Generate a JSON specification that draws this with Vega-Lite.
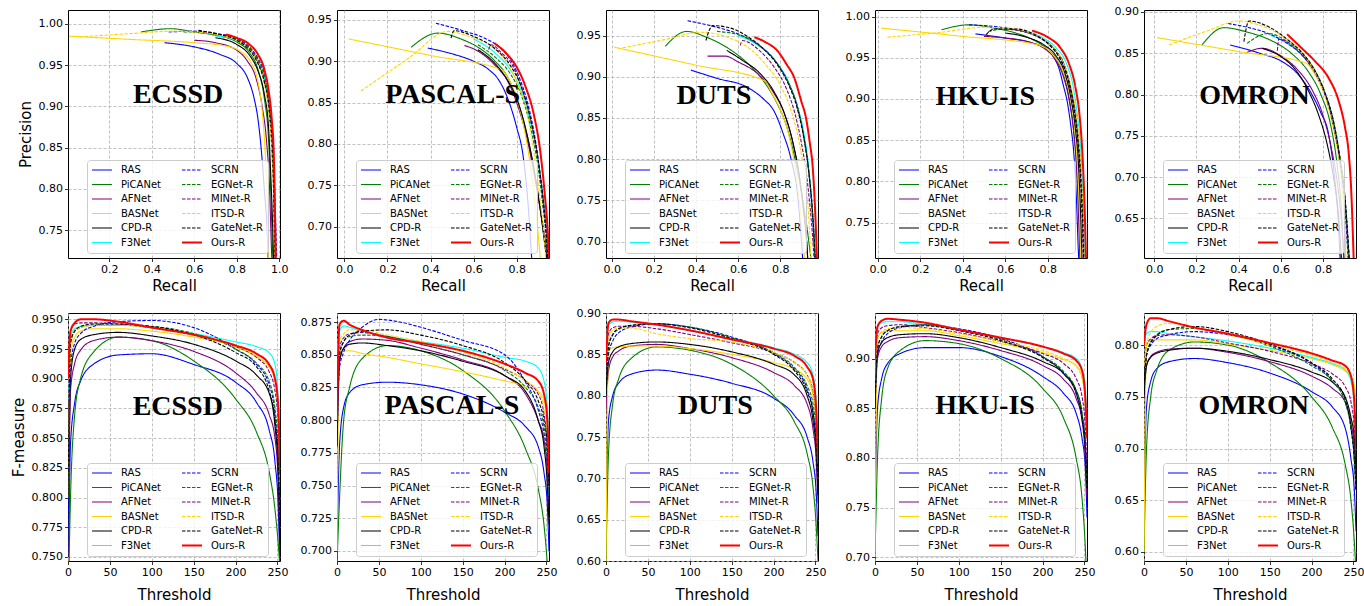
{
"$schema":"https://vega.github.io/schema/vega-lite/v6.json",
"background":"white",
"padding":{"left":10,"top":5,"right":5,"bottom":5},
"columns":5,
"spacing":{"row":55,"column":57},
"bounds":"flush",
"resolve":{"scale":{"x":"independent","y":"independent","color":"independent","strokeDash":"independent","strokeWidth":"independent"},"legend":{"color":"independent","strokeDash":"independent","strokeWidth":"independent"}},
"datasets":{
"p1":[
{"m":"RAS","x":0.46,"y":0.977},{"m":"RAS","x":0.6,"y":0.972},{"m":"RAS","x":0.72,"y":0.963},{"m":"RAS","x":0.8,"y":0.952},{"m":"RAS","x":0.85,"y":0.935},{"m":"RAS","x":0.88,"y":0.912},{"m":"RAS","x":0.9,"y":0.885},{"m":"RAS","x":0.915,"y":0.85},{"m":"RAS","x":0.93,"y":0.8},{"m":"RAS","x":0.945,"y":0.74},{"m":"RAS","x":0.95,"y":0.7},
{"m":"PiCANet","x":0.35,"y":0.99},{"m":"PiCANet","x":0.49,"y":0.994},{"m":"PiCANet","x":0.6,"y":0.99},{"m":"PiCANet","x":0.7,"y":0.986},{"m":"PiCANet","x":0.8,"y":0.978},{"m":"PiCANet","x":0.86,"y":0.965},{"m":"PiCANet","x":0.9,"y":0.945},{"m":"PiCANet","x":0.93,"y":0.91},{"m":"PiCANet","x":0.95,"y":0.86},{"m":"PiCANet","x":0.96,"y":0.8},{"m":"PiCANet","x":0.97,"y":0.72},{"m":"PiCANet","x":0.975,"y":0.7},
{"m":"AFNet","x":0.6,"y":0.98},{"m":"AFNet","x":0.7,"y":0.977},{"m":"AFNet","x":0.8,"y":0.968},{"m":"AFNet","x":0.85,"y":0.955},{"m":"AFNet","x":0.89,"y":0.935},{"m":"AFNet","x":0.92,"y":0.9},{"m":"AFNet","x":0.94,"y":0.86},{"m":"AFNet","x":0.955,"y":0.8},{"m":"AFNet","x":0.965,"y":0.72},{"m":"AFNet","x":0.97,"y":0.7},
{"m":"BASNet","x":0.012,"y":0.985},{"m":"BASNet","x":0.3,"y":0.981},{"m":"BASNet","x":0.6,"y":0.977},{"m":"BASNet","x":0.75,"y":0.973},{"m":"BASNet","x":0.82,"y":0.966},{"m":"BASNet","x":0.87,"y":0.952},{"m":"BASNet","x":0.9,"y":0.93},{"m":"BASNet","x":0.92,"y":0.895},{"m":"BASNet","x":0.935,"y":0.84},{"m":"BASNet","x":0.945,"y":0.77},{"m":"BASNet","x":0.95,"y":0.7},
{"m":"CPD-R","x":0.7,"y":0.983},{"m":"CPD-R","x":0.8,"y":0.975},{"m":"CPD-R","x":0.86,"y":0.962},{"m":"CPD-R","x":0.9,"y":0.943},{"m":"CPD-R","x":0.93,"y":0.915},{"m":"CPD-R","x":0.95,"y":0.875},{"m":"CPD-R","x":0.96,"y":0.82},{"m":"CPD-R","x":0.97,"y":0.75},{"m":"CPD-R","x":0.975,"y":0.7},
{"m":"F3Net","x":0.7,"y":0.985},{"m":"F3Net","x":0.8,"y":0.98},{"m":"F3Net","x":0.86,"y":0.97},{"m":"F3Net","x":0.9,"y":0.955},{"m":"F3Net","x":0.93,"y":0.935},{"m":"F3Net","x":0.95,"y":0.9},{"m":"F3Net","x":0.965,"y":0.86},{"m":"F3Net","x":0.975,"y":0.8},{"m":"F3Net","x":0.98,"y":0.72},{"m":"F3Net","x":0.985,"y":0.7},
{"m":"SCRN","x":0.48,"y":0.99},{"m":"SCRN","x":0.6,"y":0.991},{"m":"SCRN","x":0.7,"y":0.988},{"m":"SCRN","x":0.8,"y":0.982},{"m":"SCRN","x":0.86,"y":0.972},{"m":"SCRN","x":0.9,"y":0.958},{"m":"SCRN","x":0.93,"y":0.94},{"m":"SCRN","x":0.955,"y":0.905},{"m":"SCRN","x":0.97,"y":0.86},{"m":"SCRN","x":0.98,"y":0.79},{"m":"SCRN","x":0.99,"y":0.7},
{"m":"EGNet-R","x":0.55,"y":0.99},{"m":"EGNet-R","x":0.65,"y":0.99},{"m":"EGNet-R","x":0.75,"y":0.985},{"m":"EGNet-R","x":0.83,"y":0.977},{"m":"EGNet-R","x":0.88,"y":0.965},{"m":"EGNet-R","x":0.92,"y":0.945},{"m":"EGNet-R","x":0.945,"y":0.915},{"m":"EGNet-R","x":0.96,"y":0.875},{"m":"EGNet-R","x":0.973,"y":0.82},{"m":"EGNet-R","x":0.98,"y":0.75},{"m":"EGNet-R","x":0.985,"y":0.7},
{"m":"MINet-R","x":0.62,"y":0.99},{"m":"MINet-R","x":0.7,"y":0.988},{"m":"MINet-R","x":0.8,"y":0.982},{"m":"MINet-R","x":0.86,"y":0.97},{"m":"MINet-R","x":0.9,"y":0.955},{"m":"MINet-R","x":0.93,"y":0.93},{"m":"MINet-R","x":0.95,"y":0.9},{"m":"MINet-R","x":0.965,"y":0.85},{"m":"MINet-R","x":0.975,"y":0.78},{"m":"MINet-R","x":0.98,"y":0.7},
{"m":"ITSD-R","x":0.06,"y":0.984},{"m":"ITSD-R","x":0.3,"y":0.988},{"m":"ITSD-R","x":0.5,"y":0.991},{"m":"ITSD-R","x":0.6,"y":0.99},{"m":"ITSD-R","x":0.7,"y":0.987},{"m":"ITSD-R","x":0.8,"y":0.98},{"m":"ITSD-R","x":0.86,"y":0.968},{"m":"ITSD-R","x":0.9,"y":0.952},{"m":"ITSD-R","x":0.93,"y":0.928},{"m":"ITSD-R","x":0.95,"y":0.895},{"m":"ITSD-R","x":0.965,"y":0.85},{"m":"ITSD-R","x":0.975,"y":0.78},{"m":"ITSD-R","x":0.98,"y":0.7},
{"m":"GateNet-R","x":0.62,"y":0.992},{"m":"GateNet-R","x":0.7,"y":0.988},{"m":"GateNet-R","x":0.8,"y":0.98},{"m":"GateNet-R","x":0.86,"y":0.968},{"m":"GateNet-R","x":0.9,"y":0.952},{"m":"GateNet-R","x":0.93,"y":0.93},{"m":"GateNet-R","x":0.955,"y":0.895},{"m":"GateNet-R","x":0.97,"y":0.84},{"m":"GateNet-R","x":0.978,"y":0.76},{"m":"GateNet-R","x":0.983,"y":0.7},
{"m":"Ours-R","x":0.75,"y":0.987},{"m":"Ours-R","x":0.8,"y":0.983},{"m":"Ours-R","x":0.86,"y":0.975},{"m":"Ours-R","x":0.9,"y":0.963},{"m":"Ours-R","x":0.93,"y":0.945},{"m":"Ours-R","x":0.95,"y":0.92},{"m":"Ours-R","x":0.965,"y":0.885},{"m":"Ours-R","x":0.975,"y":0.84},{"m":"Ours-R","x":0.98,"y":0.78},{"m":"Ours-R","x":0.985,"y":0.7}
],
"p2":[
{"m":"RAS","x":0.387,"y":0.916},{"m":"RAS","x":0.5,"y":0.909},{"m":"RAS","x":0.6,"y":0.9},{"m":"RAS","x":0.67,"y":0.89},{"m":"RAS","x":0.72,"y":0.876},{"m":"RAS","x":0.76,"y":0.854},{"m":"RAS","x":0.8,"y":0.82},{"m":"RAS","x":0.83,"y":0.785},{"m":"RAS","x":0.855,"y":0.72},{"m":"RAS","x":0.87,"y":0.66},
{"m":"PiCANet","x":0.31,"y":0.917},{"m":"PiCANet","x":0.433,"y":0.934},{"m":"PiCANet","x":0.55,"y":0.926},{"m":"PiCANet","x":0.62,"y":0.917},{"m":"PiCANet","x":0.7,"y":0.9},{"m":"PiCANet","x":0.76,"y":0.88},{"m":"PiCANet","x":0.8,"y":0.855},{"m":"PiCANet","x":0.84,"y":0.82},{"m":"PiCANet","x":0.88,"y":0.77},{"m":"PiCANet","x":0.91,"y":0.72},{"m":"PiCANet","x":0.93,"y":0.68},{"m":"PiCANet","x":0.94,"y":0.66},
{"m":"AFNet","x":0.557,"y":0.919},{"m":"AFNet","x":0.6,"y":0.915},{"m":"AFNet","x":0.7,"y":0.895},{"m":"AFNet","x":0.76,"y":0.875},{"m":"AFNet","x":0.8,"y":0.85},{"m":"AFNet","x":0.84,"y":0.815},{"m":"AFNet","x":0.88,"y":0.765},{"m":"AFNet","x":0.91,"y":0.72},{"m":"AFNet","x":0.935,"y":0.68},{"m":"AFNet","x":0.945,"y":0.66},
{"m":"BASNet","x":0.02,"y":0.927},{"m":"BASNet","x":0.4,"y":0.907},{"m":"BASNet","x":0.735,"y":0.889},{"m":"BASNet","x":0.77,"y":0.875},{"m":"BASNet","x":0.8,"y":0.855},{"m":"BASNet","x":0.83,"y":0.825},{"m":"BASNet","x":0.86,"y":0.78},{"m":"BASNet","x":0.88,"y":0.74},{"m":"BASNet","x":0.9,"y":0.69},{"m":"BASNet","x":0.91,"y":0.66},
{"m":"CPD-R","x":0.62,"y":0.914},{"m":"CPD-R","x":0.7,"y":0.897},{"m":"CPD-R","x":0.76,"y":0.876},{"m":"CPD-R","x":0.8,"y":0.855},{"m":"CPD-R","x":0.84,"y":0.82},{"m":"CPD-R","x":0.88,"y":0.77},{"m":"CPD-R","x":0.91,"y":0.72},{"m":"CPD-R","x":0.93,"y":0.68},{"m":"CPD-R","x":0.94,"y":0.66},
{"m":"F3Net","x":0.6,"y":0.927},{"m":"F3Net","x":0.7,"y":0.91},{"m":"F3Net","x":0.77,"y":0.89},{"m":"F3Net","x":0.82,"y":0.865},{"m":"F3Net","x":0.86,"y":0.83},{"m":"F3Net","x":0.9,"y":0.78},{"m":"F3Net","x":0.92,"y":0.74},{"m":"F3Net","x":0.94,"y":0.69},{"m":"F3Net","x":0.945,"y":0.66},
{"m":"SCRN","x":0.425,"y":0.946},{"m":"SCRN","x":0.55,"y":0.937},{"m":"SCRN","x":0.65,"y":0.928},{"m":"SCRN","x":0.72,"y":0.917},{"m":"SCRN","x":0.78,"y":0.898},{"m":"SCRN","x":0.82,"y":0.875},{"m":"SCRN","x":0.86,"y":0.84},{"m":"SCRN","x":0.9,"y":0.78},{"m":"SCRN","x":0.92,"y":0.73},{"m":"SCRN","x":0.94,"y":0.68},{"m":"SCRN","x":0.945,"y":0.66},
{"m":"EGNet-R","x":0.62,"y":0.92},{"m":"EGNet-R","x":0.7,"y":0.905},{"m":"EGNet-R","x":0.77,"y":0.885},{"m":"EGNet-R","x":0.82,"y":0.86},{"m":"EGNet-R","x":0.86,"y":0.825},{"m":"EGNet-R","x":0.9,"y":0.77},{"m":"EGNet-R","x":0.92,"y":0.73},{"m":"EGNet-R","x":0.94,"y":0.68},{"m":"EGNet-R","x":0.945,"y":0.66},
{"m":"MINet-R","x":0.67,"y":0.914},{"m":"MINet-R","x":0.68,"y":0.92},{"m":"MINet-R","x":0.73,"y":0.91},{"m":"MINet-R","x":0.78,"y":0.895},{"m":"MINet-R","x":0.82,"y":0.87},{"m":"MINet-R","x":0.86,"y":0.835},{"m":"MINet-R","x":0.9,"y":0.78},{"m":"MINet-R","x":0.92,"y":0.74},{"m":"MINet-R","x":0.94,"y":0.69},{"m":"MINet-R","x":0.948,"y":0.66},
{"m":"ITSD-R","x":0.077,"y":0.864},{"m":"ITSD-R","x":0.3,"y":0.904},{"m":"ITSD-R","x":0.48,"y":0.936},{"m":"ITSD-R","x":0.58,"y":0.93},{"m":"ITSD-R","x":0.68,"y":0.918},{"m":"ITSD-R","x":0.75,"y":0.9},{"m":"ITSD-R","x":0.8,"y":0.875},{"m":"ITSD-R","x":0.85,"y":0.835},{"m":"ITSD-R","x":0.88,"y":0.79},{"m":"ITSD-R","x":0.91,"y":0.73},{"m":"ITSD-R","x":0.93,"y":0.68},{"m":"ITSD-R","x":0.935,"y":0.66},
{"m":"GateNet-R","x":0.495,"y":0.928},{"m":"GateNet-R","x":0.51,"y":0.937},{"m":"GateNet-R","x":0.6,"y":0.93},{"m":"GateNet-R","x":0.7,"y":0.915},{"m":"GateNet-R","x":0.77,"y":0.895},{"m":"GateNet-R","x":0.82,"y":0.87},{"m":"GateNet-R","x":0.86,"y":0.835},{"m":"GateNet-R","x":0.9,"y":0.78},{"m":"GateNet-R","x":0.92,"y":0.74},{"m":"GateNet-R","x":0.94,"y":0.68},{"m":"GateNet-R","x":0.945,"y":0.66},
{"m":"Ours-R","x":0.696,"y":0.922},{"m":"Ours-R","x":0.75,"y":0.91},{"m":"Ours-R","x":0.8,"y":0.893},{"m":"Ours-R","x":0.84,"y":0.87},{"m":"Ours-R","x":0.88,"y":0.835},{"m":"Ours-R","x":0.91,"y":0.79},{"m":"Ours-R","x":0.93,"y":0.74},{"m":"Ours-R","x":0.945,"y":0.69},{"m":"Ours-R","x":0.95,"y":0.66}
],
"p3":[
{"m":"RAS","x":0.376,"y":0.908},{"m":"RAS","x":0.5,"y":0.898},{"m":"RAS","x":0.645,"y":0.887},{"m":"RAS","x":0.72,"y":0.873},{"m":"RAS","x":0.771,"y":0.858},{"m":"RAS","x":0.815,"y":0.83},{"m":"RAS","x":0.851,"y":0.8},{"m":"RAS","x":0.885,"y":0.75},{"m":"RAS","x":0.906,"y":0.68},
{"m":"PiCANet","x":0.254,"y":0.937},{"m":"PiCANet","x":0.355,"y":0.955},{"m":"PiCANet","x":0.45,"y":0.948},{"m":"PiCANet","x":0.55,"y":0.935},{"m":"PiCANet","x":0.65,"y":0.915},{"m":"PiCANet","x":0.72,"y":0.895},{"m":"PiCANet","x":0.78,"y":0.87},{"m":"PiCANet","x":0.83,"y":0.84},{"m":"PiCANet","x":0.87,"y":0.8},{"m":"PiCANet","x":0.9,"y":0.76},{"m":"PiCANet","x":0.925,"y":0.72},{"m":"PiCANet","x":0.945,"y":0.68},
{"m":"AFNet","x":0.455,"y":0.925},{"m":"AFNet","x":0.54,"y":0.925},{"m":"AFNet","x":0.6,"y":0.918},{"m":"AFNet","x":0.7,"y":0.902},{"m":"AFNet","x":0.77,"y":0.88},{"m":"AFNet","x":0.82,"y":0.855},{"m":"AFNet","x":0.86,"y":0.82},{"m":"AFNet","x":0.89,"y":0.78},{"m":"AFNet","x":0.91,"y":0.74},{"m":"AFNet","x":0.925,"y":0.7},{"m":"AFNet","x":0.93,"y":0.68},
{"m":"BASNet","x":0.01,"y":0.936},{"m":"BASNet","x":0.4,"y":0.914},{"m":"BASNet","x":0.725,"y":0.895},{"m":"BASNet","x":0.76,"y":0.88},{"m":"BASNet","x":0.8,"y":0.86},{"m":"BASNet","x":0.84,"y":0.83},{"m":"BASNet","x":0.87,"y":0.79},{"m":"BASNet","x":0.89,"y":0.75},{"m":"BASNet","x":0.905,"y":0.71},{"m":"BASNet","x":0.915,"y":0.68},
{"m":"CPD-R","x":0.546,"y":0.932},{"m":"CPD-R","x":0.62,"y":0.92},{"m":"CPD-R","x":0.7,"y":0.905},{"m":"CPD-R","x":0.77,"y":0.882},{"m":"CPD-R","x":0.82,"y":0.855},{"m":"CPD-R","x":0.86,"y":0.82},{"m":"CPD-R","x":0.89,"y":0.78},{"m":"CPD-R","x":0.91,"y":0.74},{"m":"CPD-R","x":0.925,"y":0.7},{"m":"CPD-R","x":0.93,"y":0.68},
{"m":"F3Net","x":0.6,"y":0.95},{"m":"F3Net","x":0.7,"y":0.937},{"m":"F3Net","x":0.78,"y":0.918},{"m":"F3Net","x":0.84,"y":0.893},{"m":"F3Net","x":0.88,"y":0.865},{"m":"F3Net","x":0.91,"y":0.835},{"m":"F3Net","x":0.935,"y":0.79},{"m":"F3Net","x":0.952,"y":0.74},{"m":"F3Net","x":0.962,"y":0.7},{"m":"F3Net","x":0.966,"y":0.68},
{"m":"SCRN","x":0.36,"y":0.968},{"m":"SCRN","x":0.5,"y":0.96},{"m":"SCRN","x":0.6,"y":0.952},{"m":"SCRN","x":0.7,"y":0.938},{"m":"SCRN","x":0.78,"y":0.918},{"m":"SCRN","x":0.84,"y":0.892},{"m":"SCRN","x":0.88,"y":0.865},{"m":"SCRN","x":0.91,"y":0.83},{"m":"SCRN","x":0.935,"y":0.785},{"m":"SCRN","x":0.95,"y":0.74},{"m":"SCRN","x":0.96,"y":0.7},{"m":"SCRN","x":0.964,"y":0.68},
{"m":"EGNet-R","x":0.5,"y":0.955},{"m":"EGNet-R","x":0.6,"y":0.951},{"m":"EGNet-R","x":0.7,"y":0.938},{"m":"EGNet-R","x":0.78,"y":0.918},{"m":"EGNet-R","x":0.84,"y":0.892},{"m":"EGNet-R","x":0.88,"y":0.865},{"m":"EGNet-R","x":0.91,"y":0.83},{"m":"EGNet-R","x":0.935,"y":0.785},{"m":"EGNet-R","x":0.952,"y":0.74},{"m":"EGNet-R","x":0.962,"y":0.7},{"m":"EGNet-R","x":0.966,"y":0.68},
{"m":"MINet-R","x":0.61,"y":0.938},{"m":"MINet-R","x":0.62,"y":0.944},{"m":"MINet-R","x":0.7,"y":0.932},{"m":"MINet-R","x":0.77,"y":0.912},{"m":"MINet-R","x":0.83,"y":0.885},{"m":"MINet-R","x":0.87,"y":0.855},{"m":"MINet-R","x":0.9,"y":0.82},{"m":"MINet-R","x":0.925,"y":0.78},{"m":"MINet-R","x":0.942,"y":0.74},{"m":"MINet-R","x":0.955,"y":0.7},{"m":"MINet-R","x":0.96,"y":0.68},
{"m":"ITSD-R","x":0.052,"y":0.935},{"m":"ITSD-R","x":0.25,"y":0.945},{"m":"ITSD-R","x":0.424,"y":0.954},{"m":"ITSD-R","x":0.55,"y":0.948},{"m":"ITSD-R","x":0.65,"y":0.935},{"m":"ITSD-R","x":0.73,"y":0.915},{"m":"ITSD-R","x":0.8,"y":0.89},{"m":"ITSD-R","x":0.85,"y":0.86},{"m":"ITSD-R","x":0.89,"y":0.82},{"m":"ITSD-R","x":0.915,"y":0.78},{"m":"ITSD-R","x":0.935,"y":0.73},{"m":"ITSD-R","x":0.945,"y":0.68},
{"m":"GateNet-R","x":0.447,"y":0.944},{"m":"GateNet-R","x":0.479,"y":0.962},{"m":"GateNet-R","x":0.55,"y":0.96},{"m":"GateNet-R","x":0.65,"y":0.948},{"m":"GateNet-R","x":0.72,"y":0.934},{"m":"GateNet-R","x":0.79,"y":0.913},{"m":"GateNet-R","x":0.84,"y":0.89},{"m":"GateNet-R","x":0.88,"y":0.862},{"m":"GateNet-R","x":0.91,"y":0.828},{"m":"GateNet-R","x":0.935,"y":0.785},{"m":"GateNet-R","x":0.952,"y":0.74},{"m":"GateNet-R","x":0.962,"y":0.7},{"m":"GateNet-R","x":0.966,"y":0.68},
{"m":"Ours-R","x":0.677,"y":0.948},{"m":"Ours-R","x":0.73,"y":0.942},{"m":"Ours-R","x":0.788,"y":0.931},{"m":"Ours-R","x":0.83,"y":0.915},{"m":"Ours-R","x":0.866,"y":0.899},{"m":"Ours-R","x":0.9,"y":0.87},{"m":"Ours-R","x":0.922,"y":0.85},{"m":"Ours-R","x":0.94,"y":0.82},{"m":"Ours-R","x":0.954,"y":0.79},{"m":"Ours-R","x":0.965,"y":0.74},{"m":"Ours-R","x":0.974,"y":0.68}
],
"p4":[
{"m":"RAS","x":0.46,"y":0.979},{"m":"RAS","x":0.6,"y":0.974},{"m":"RAS","x":0.726,"y":0.968},{"m":"RAS","x":0.79,"y":0.961},{"m":"RAS","x":0.83,"y":0.95},{"m":"RAS","x":0.852,"y":0.938},{"m":"RAS","x":0.875,"y":0.915},{"m":"RAS","x":0.891,"y":0.898},{"m":"RAS","x":0.91,"y":0.865},{"m":"RAS","x":0.922,"y":0.837},{"m":"RAS","x":0.935,"y":0.78},{"m":"RAS","x":0.946,"y":0.707},{"m":"RAS","x":0.948,"y":0.7},
{"m":"PiCANet","x":0.3,"y":0.984},{"m":"PiCANet","x":0.43,"y":0.99},{"m":"PiCANet","x":0.55,"y":0.986},{"m":"PiCANet","x":0.65,"y":0.98},{"m":"PiCANet","x":0.73,"y":0.972},{"m":"PiCANet","x":0.8,"y":0.96},{"m":"PiCANet","x":0.85,"y":0.945},{"m":"PiCANet","x":0.88,"y":0.925},{"m":"PiCANet","x":0.905,"y":0.895},{"m":"PiCANet","x":0.925,"y":0.855},{"m":"PiCANet","x":0.94,"y":0.8},{"m":"PiCANet","x":0.95,"y":0.74},{"m":"PiCANet","x":0.955,"y":0.7},
{"m":"AFNet","x":0.5,"y":0.976},{"m":"AFNet","x":0.6,"y":0.974},{"m":"AFNet","x":0.7,"y":0.97},{"m":"AFNet","x":0.78,"y":0.962},{"m":"AFNet","x":0.83,"y":0.95},{"m":"AFNet","x":0.87,"y":0.93},{"m":"AFNet","x":0.9,"y":0.9},{"m":"AFNet","x":0.92,"y":0.865},{"m":"AFNet","x":0.935,"y":0.82},{"m":"AFNet","x":0.945,"y":0.76},{"m":"AFNet","x":0.952,"y":0.7},
{"m":"BASNet","x":0.015,"y":0.986},{"m":"BASNet","x":0.4,"y":0.976},{"m":"BASNet","x":0.75,"y":0.966},{"m":"BASNet","x":0.82,"y":0.955},{"m":"BASNet","x":0.87,"y":0.935},{"m":"BASNet","x":0.9,"y":0.91},{"m":"BASNet","x":0.925,"y":0.87},{"m":"BASNet","x":0.94,"y":0.82},{"m":"BASNet","x":0.95,"y":0.76},{"m":"BASNet","x":0.956,"y":0.7},
{"m":"CPD-R","x":0.6,"y":0.98},{"m":"CPD-R","x":0.7,"y":0.975},{"m":"CPD-R","x":0.78,"y":0.966},{"m":"CPD-R","x":0.84,"y":0.952},{"m":"CPD-R","x":0.88,"y":0.932},{"m":"CPD-R","x":0.91,"y":0.9},{"m":"CPD-R","x":0.93,"y":0.865},{"m":"CPD-R","x":0.945,"y":0.82},{"m":"CPD-R","x":0.955,"y":0.76},{"m":"CPD-R","x":0.962,"y":0.7},
{"m":"F3Net","x":0.7,"y":0.982},{"m":"F3Net","x":0.78,"y":0.974},{"m":"F3Net","x":0.84,"y":0.962},{"m":"F3Net","x":0.89,"y":0.942},{"m":"F3Net","x":0.92,"y":0.915},{"m":"F3Net","x":0.94,"y":0.88},{"m":"F3Net","x":0.955,"y":0.84},{"m":"F3Net","x":0.965,"y":0.79},{"m":"F3Net","x":0.972,"y":0.74},{"m":"F3Net","x":0.976,"y":0.7},
{"m":"SCRN","x":0.43,"y":0.99},{"m":"SCRN","x":0.55,"y":0.988},{"m":"SCRN","x":0.65,"y":0.984},{"m":"SCRN","x":0.74,"y":0.977},{"m":"SCRN","x":0.81,"y":0.965},{"m":"SCRN","x":0.86,"y":0.948},{"m":"SCRN","x":0.9,"y":0.92},{"m":"SCRN","x":0.925,"y":0.89},{"m":"SCRN","x":0.945,"y":0.85},{"m":"SCRN","x":0.958,"y":0.8},{"m":"SCRN","x":0.966,"y":0.75},{"m":"SCRN","x":0.97,"y":0.7},
{"m":"EGNet-R","x":0.52,"y":0.982},{"m":"EGNet-R","x":0.6,"y":0.985},{"m":"EGNet-R","x":0.7,"y":0.981},{"m":"EGNet-R","x":0.78,"y":0.972},{"m":"EGNet-R","x":0.84,"y":0.958},{"m":"EGNet-R","x":0.88,"y":0.94},{"m":"EGNet-R","x":0.91,"y":0.912},{"m":"EGNet-R","x":0.935,"y":0.875},{"m":"EGNet-R","x":0.95,"y":0.83},{"m":"EGNet-R","x":0.962,"y":0.78},{"m":"EGNet-R","x":0.968,"y":0.73},{"m":"EGNet-R","x":0.972,"y":0.7},
{"m":"MINet-R","x":0.6,"y":0.985},{"m":"MINet-R","x":0.7,"y":0.981},{"m":"MINet-R","x":0.78,"y":0.972},{"m":"MINet-R","x":0.84,"y":0.958},{"m":"MINet-R","x":0.88,"y":0.94},{"m":"MINet-R","x":0.91,"y":0.912},{"m":"MINet-R","x":0.932,"y":0.875},{"m":"MINet-R","x":0.948,"y":0.83},{"m":"MINet-R","x":0.958,"y":0.78},{"m":"MINet-R","x":0.965,"y":0.73},{"m":"MINet-R","x":0.968,"y":0.7},
{"m":"ITSD-R","x":0.045,"y":0.975},{"m":"ITSD-R","x":0.3,"y":0.981},{"m":"ITSD-R","x":0.5,"y":0.987},{"m":"ITSD-R","x":0.62,"y":0.986},{"m":"ITSD-R","x":0.72,"y":0.98},{"m":"ITSD-R","x":0.8,"y":0.968},{"m":"ITSD-R","x":0.86,"y":0.95},{"m":"ITSD-R","x":0.9,"y":0.925},{"m":"ITSD-R","x":0.93,"y":0.89},{"m":"ITSD-R","x":0.948,"y":0.85},{"m":"ITSD-R","x":0.96,"y":0.8},{"m":"ITSD-R","x":0.968,"y":0.75},{"m":"ITSD-R","x":0.972,"y":0.7},
{"m":"GateNet-R","x":0.51,"y":0.978},{"m":"GateNet-R","x":0.55,"y":0.985},{"m":"GateNet-R","x":0.65,"y":0.985},{"m":"GateNet-R","x":0.74,"y":0.978},{"m":"GateNet-R","x":0.81,"y":0.965},{"m":"GateNet-R","x":0.86,"y":0.948},{"m":"GateNet-R","x":0.9,"y":0.92},{"m":"GateNet-R","x":0.925,"y":0.885},{"m":"GateNet-R","x":0.945,"y":0.84},{"m":"GateNet-R","x":0.958,"y":0.79},{"m":"GateNet-R","x":0.966,"y":0.74},{"m":"GateNet-R","x":0.97,"y":0.7},
{"m":"Ours-R","x":0.726,"y":0.983},{"m":"Ours-R","x":0.8,"y":0.975},{"m":"Ours-R","x":0.86,"y":0.962},{"m":"Ours-R","x":0.9,"y":0.943},{"m":"Ours-R","x":0.93,"y":0.915},{"m":"Ours-R","x":0.95,"y":0.88},{"m":"Ours-R","x":0.962,"y":0.84},{"m":"Ours-R","x":0.971,"y":0.79},{"m":"Ours-R","x":0.977,"y":0.74},{"m":"Ours-R","x":0.981,"y":0.7}
],
"p5":[
{"m":"RAS","x":0.36,"y":0.86},{"m":"RAS","x":0.5,"y":0.85},{"m":"RAS","x":0.606,"y":0.84},{"m":"RAS","x":0.68,"y":0.825},{"m":"RAS","x":0.748,"y":0.8},{"m":"RAS","x":0.79,"y":0.778},{"m":"RAS","x":0.827,"y":0.752},{"m":"RAS","x":0.855,"y":0.7},{"m":"RAS","x":0.872,"y":0.65},{"m":"RAS","x":0.882,"y":0.6},
{"m":"PiCANet","x":0.226,"y":0.86},{"m":"PiCANet","x":0.329,"y":0.881},{"m":"PiCANet","x":0.45,"y":0.875},{"m":"PiCANet","x":0.55,"y":0.866},{"m":"PiCANet","x":0.65,"y":0.85},{"m":"PiCANet","x":0.73,"y":0.828},{"m":"PiCANet","x":0.79,"y":0.8},{"m":"PiCANet","x":0.835,"y":0.765},{"m":"PiCANet","x":0.865,"y":0.72},{"m":"PiCANet","x":0.885,"y":0.67},{"m":"PiCANet","x":0.9,"y":0.6},
{"m":"AFNet","x":0.44,"y":0.851},{"m":"AFNet","x":0.51,"y":0.856},{"m":"AFNet","x":0.6,"y":0.847},{"m":"AFNet","x":0.68,"y":0.83},{"m":"AFNet","x":0.75,"y":0.805},{"m":"AFNet","x":0.8,"y":0.775},{"m":"AFNet","x":0.84,"y":0.735},{"m":"AFNet","x":0.87,"y":0.69},{"m":"AFNet","x":0.89,"y":0.64},{"m":"AFNet","x":0.9,"y":0.6},
{"m":"BASNet","x":0.013,"y":0.869},{"m":"BASNet","x":0.4,"y":0.852},{"m":"BASNet","x":0.72,"y":0.838},{"m":"BASNet","x":0.76,"y":0.825},{"m":"BASNet","x":0.8,"y":0.805},{"m":"BASNet","x":0.84,"y":0.775},{"m":"BASNet","x":0.87,"y":0.735},{"m":"BASNet","x":0.89,"y":0.69},{"m":"BASNet","x":0.903,"y":0.64},{"m":"BASNet","x":0.908,"y":0.6},
{"m":"CPD-R","x":0.51,"y":0.856},{"m":"CPD-R","x":0.6,"y":0.846},{"m":"CPD-R","x":0.67,"y":0.83},{"m":"CPD-R","x":0.73,"y":0.805},{"m":"CPD-R","x":0.78,"y":0.775},{"m":"CPD-R","x":0.82,"y":0.74},{"m":"CPD-R","x":0.85,"y":0.7},{"m":"CPD-R","x":0.875,"y":0.65},{"m":"CPD-R","x":0.888,"y":0.6},
{"m":"F3Net","x":0.55,"y":0.872},{"m":"F3Net","x":0.63,"y":0.862},{"m":"F3Net","x":0.7,"y":0.848},{"m":"F3Net","x":0.76,"y":0.828},{"m":"F3Net","x":0.81,"y":0.8},{"m":"F3Net","x":0.85,"y":0.765},{"m":"F3Net","x":0.88,"y":0.72},{"m":"F3Net","x":0.905,"y":0.67},{"m":"F3Net","x":0.92,"y":0.6},
{"m":"SCRN","x":0.35,"y":0.886},{"m":"SCRN","x":0.45,"y":0.881},{"m":"SCRN","x":0.55,"y":0.873},{"m":"SCRN","x":0.63,"y":0.862},{"m":"SCRN","x":0.7,"y":0.848},{"m":"SCRN","x":0.76,"y":0.828},{"m":"SCRN","x":0.81,"y":0.8},{"m":"SCRN","x":0.85,"y":0.765},{"m":"SCRN","x":0.88,"y":0.72},{"m":"SCRN","x":0.905,"y":0.67},{"m":"SCRN","x":0.925,"y":0.6},
{"m":"EGNet-R","x":0.44,"y":0.862},{"m":"EGNet-R","x":0.54,"y":0.874},{"m":"EGNet-R","x":0.62,"y":0.866},{"m":"EGNet-R","x":0.7,"y":0.85},{"m":"EGNet-R","x":0.76,"y":0.83},{"m":"EGNet-R","x":0.81,"y":0.802},{"m":"EGNet-R","x":0.85,"y":0.768},{"m":"EGNet-R","x":0.88,"y":0.725},{"m":"EGNet-R","x":0.905,"y":0.675},{"m":"EGNet-R","x":0.925,"y":0.6},
{"m":"MINet-R","x":0.584,"y":0.853},{"m":"MINet-R","x":0.59,"y":0.867},{"m":"MINet-R","x":0.65,"y":0.86},{"m":"MINet-R","x":0.71,"y":0.845},{"m":"MINet-R","x":0.77,"y":0.823},{"m":"MINet-R","x":0.82,"y":0.792},{"m":"MINet-R","x":0.855,"y":0.755},{"m":"MINet-R","x":0.885,"y":0.71},{"m":"MINet-R","x":0.905,"y":0.66},{"m":"MINet-R","x":0.92,"y":0.6},
{"m":"ITSD-R","x":0.07,"y":0.86},{"m":"ITSD-R","x":0.25,"y":0.877},{"m":"ITSD-R","x":0.4,"y":0.889},{"m":"ITSD-R","x":0.5,"y":0.884},{"m":"ITSD-R","x":0.6,"y":0.872},{"m":"ITSD-R","x":0.68,"y":0.856},{"m":"ITSD-R","x":0.75,"y":0.833},{"m":"ITSD-R","x":0.8,"y":0.805},{"m":"ITSD-R","x":0.84,"y":0.77},{"m":"ITSD-R","x":0.87,"y":0.73},{"m":"ITSD-R","x":0.895,"y":0.67},{"m":"ITSD-R","x":0.91,"y":0.6},
{"m":"GateNet-R","x":0.425,"y":0.864},{"m":"GateNet-R","x":0.449,"y":0.889},{"m":"GateNet-R","x":0.55,"y":0.881},{"m":"GateNet-R","x":0.63,"y":0.867},{"m":"GateNet-R","x":0.7,"y":0.851},{"m":"GateNet-R","x":0.76,"y":0.83},{"m":"GateNet-R","x":0.81,"y":0.802},{"m":"GateNet-R","x":0.85,"y":0.768},{"m":"GateNet-R","x":0.88,"y":0.725},{"m":"GateNet-R","x":0.905,"y":0.675},{"m":"GateNet-R","x":0.925,"y":0.6},
{"m":"Ours-R","x":0.63,"y":0.873},{"m":"Ours-R","x":0.7,"y":0.856},{"m":"Ours-R","x":0.764,"y":0.84},{"m":"Ours-R","x":0.827,"y":0.82},{"m":"Ours-R","x":0.875,"y":0.792},{"m":"Ours-R","x":0.905,"y":0.76},{"m":"Ours-R","x":0.922,"y":0.73},{"m":"Ours-R","x":0.935,"y":0.68},{"m":"Ours-R","x":0.946,"y":0.6}
],
"f1":[
{"m":"RAS","x":0,"y":0.7},{"m":"RAS","x":3,"y":0.845},{"m":"RAS","x":8,"y":0.88},{"m":"RAS","x":15,"y":0.898},{"m":"RAS","x":30,"y":0.912},{"m":"RAS","x":60,"y":0.92},{"m":"RAS","x":100,"y":0.921},{"m":"RAS","x":150,"y":0.912},{"m":"RAS","x":200,"y":0.897},{"m":"RAS","x":225,"y":0.88},{"m":"RAS","x":240,"y":0.857},{"m":"RAS","x":247,"y":0.83},{"m":"RAS","x":251,"y":0.79},{"m":"RAS","x":253,"y":0.74},
{"m":"PiCANet","x":0,"y":0.7},{"m":"PiCANet","x":3,"y":0.8},{"m":"PiCANet","x":8,"y":0.87},{"m":"PiCANet","x":15,"y":0.9},{"m":"PiCANet","x":30,"y":0.922},{"m":"PiCANet","x":60,"y":0.935},{"m":"PiCANet","x":100,"y":0.932},{"m":"PiCANet","x":150,"y":0.915},{"m":"PiCANet","x":200,"y":0.883},{"m":"PiCANet","x":225,"y":0.855},{"m":"PiCANet","x":240,"y":0.822},{"m":"PiCANet","x":247,"y":0.79},{"m":"PiCANet","x":251,"y":0.76},{"m":"PiCANet","x":253,"y":0.74},
{"m":"AFNet","x":0,"y":0.72},{"m":"AFNet","x":3,"y":0.89},{"m":"AFNet","x":8,"y":0.913},{"m":"AFNet","x":15,"y":0.924},{"m":"AFNet","x":30,"y":0.932},{"m":"AFNet","x":60,"y":0.935},{"m":"AFNet","x":100,"y":0.932},{"m":"AFNet","x":150,"y":0.923},{"m":"AFNet","x":200,"y":0.905},{"m":"AFNet","x":225,"y":0.888},{"m":"AFNet","x":240,"y":0.87},{"m":"AFNet","x":247,"y":0.85},{"m":"AFNet","x":251,"y":0.81},{"m":"AFNet","x":253,"y":0.75},
{"m":"BASNet","x":0,"y":0.74},{"m":"BASNet","x":3,"y":0.92},{"m":"BASNet","x":8,"y":0.935},{"m":"BASNet","x":15,"y":0.94},{"m":"BASNet","x":30,"y":0.942},{"m":"BASNet","x":60,"y":0.942},{"m":"BASNet","x":100,"y":0.94},{"m":"BASNet","x":150,"y":0.935},{"m":"BASNet","x":200,"y":0.927},{"m":"BASNet","x":225,"y":0.918},{"m":"BASNet","x":240,"y":0.91},{"m":"BASNet","x":247,"y":0.9},{"m":"BASNet","x":251,"y":0.87},{"m":"BASNet","x":253,"y":0.8},
{"m":"CPD-R","x":0,"y":0.75},{"m":"CPD-R","x":3,"y":0.9},{"m":"CPD-R","x":8,"y":0.925},{"m":"CPD-R","x":15,"y":0.933},{"m":"CPD-R","x":30,"y":0.937},{"m":"CPD-R","x":60,"y":0.939},{"m":"CPD-R","x":100,"y":0.936},{"m":"CPD-R","x":150,"y":0.929},{"m":"CPD-R","x":200,"y":0.915},{"m":"CPD-R","x":225,"y":0.903},{"m":"CPD-R","x":240,"y":0.888},{"m":"CPD-R","x":247,"y":0.86},{"m":"CPD-R","x":251,"y":0.82},{"m":"CPD-R","x":253,"y":0.76},
{"m":"F3Net","x":0,"y":0.88},{"m":"F3Net","x":3,"y":0.935},{"m":"F3Net","x":8,"y":0.942},{"m":"F3Net","x":15,"y":0.944},{"m":"F3Net","x":30,"y":0.945},{"m":"F3Net","x":60,"y":0.945},{"m":"F3Net","x":100,"y":0.943},{"m":"F3Net","x":150,"y":0.938},{"m":"F3Net","x":200,"y":0.931},{"m":"F3Net","x":225,"y":0.927},{"m":"F3Net","x":240,"y":0.922},{"m":"F3Net","x":247,"y":0.912},{"m":"F3Net","x":251,"y":0.88},{"m":"F3Net","x":253,"y":0.82},
{"m":"SCRN","x":0,"y":0.75},{"m":"SCRN","x":3,"y":0.91},{"m":"SCRN","x":8,"y":0.93},{"m":"SCRN","x":15,"y":0.938},{"m":"SCRN","x":30,"y":0.944},{"m":"SCRN","x":60,"y":0.948},{"m":"SCRN","x":100,"y":0.949},{"m":"SCRN","x":150,"y":0.943},{"m":"SCRN","x":200,"y":0.925},{"m":"SCRN","x":225,"y":0.912},{"m":"SCRN","x":240,"y":0.895},{"m":"SCRN","x":247,"y":0.87},{"m":"SCRN","x":251,"y":0.83},{"m":"SCRN","x":253,"y":0.77},
{"m":"EGNet-R","x":0,"y":0.8},{"m":"EGNet-R","x":3,"y":0.93},{"m":"EGNet-R","x":8,"y":0.94},{"m":"EGNet-R","x":15,"y":0.943},{"m":"EGNet-R","x":30,"y":0.945},{"m":"EGNet-R","x":60,"y":0.945},{"m":"EGNet-R","x":100,"y":0.944},{"m":"EGNet-R","x":150,"y":0.938},{"m":"EGNet-R","x":200,"y":0.925},{"m":"EGNet-R","x":225,"y":0.913},{"m":"EGNet-R","x":240,"y":0.898},{"m":"EGNet-R","x":247,"y":0.875},{"m":"EGNet-R","x":251,"y":0.84},{"m":"EGNet-R","x":253,"y":0.78},
{"m":"MINet-R","x":0,"y":0.85},{"m":"MINet-R","x":3,"y":0.94},{"m":"MINet-R","x":8,"y":0.946},{"m":"MINet-R","x":15,"y":0.947},{"m":"MINet-R","x":30,"y":0.947},{"m":"MINet-R","x":60,"y":0.946},{"m":"MINet-R","x":100,"y":0.943},{"m":"MINet-R","x":150,"y":0.937},{"m":"MINet-R","x":200,"y":0.927},{"m":"MINet-R","x":225,"y":0.918},{"m":"MINet-R","x":240,"y":0.906},{"m":"MINet-R","x":247,"y":0.89},{"m":"MINet-R","x":251,"y":0.86},{"m":"MINet-R","x":253,"y":0.8},
{"m":"ITSD-R","x":0,"y":0.8},{"m":"ITSD-R","x":3,"y":0.93},{"m":"ITSD-R","x":8,"y":0.94},{"m":"ITSD-R","x":15,"y":0.943},{"m":"ITSD-R","x":30,"y":0.945},{"m":"ITSD-R","x":60,"y":0.945},{"m":"ITSD-R","x":100,"y":0.943},{"m":"ITSD-R","x":150,"y":0.937},{"m":"ITSD-R","x":200,"y":0.927},{"m":"ITSD-R","x":225,"y":0.919},{"m":"ITSD-R","x":240,"y":0.91},{"m":"ITSD-R","x":247,"y":0.898},{"m":"ITSD-R","x":251,"y":0.87},{"m":"ITSD-R","x":253,"y":0.81},
{"m":"GateNet-R","x":0,"y":0.8},{"m":"GateNet-R","x":3,"y":0.93},{"m":"GateNet-R","x":8,"y":0.94},{"m":"GateNet-R","x":15,"y":0.944},{"m":"GateNet-R","x":30,"y":0.946},{"m":"GateNet-R","x":60,"y":0.946},{"m":"GateNet-R","x":100,"y":0.944},{"m":"GateNet-R","x":150,"y":0.937},{"m":"GateNet-R","x":200,"y":0.922},{"m":"GateNet-R","x":225,"y":0.91},{"m":"GateNet-R","x":240,"y":0.89},{"m":"GateNet-R","x":247,"y":0.865},{"m":"GateNet-R","x":251,"y":0.83},{"m":"GateNet-R","x":253,"y":0.77},
{"m":"Ours-R","x":0,"y":0.9},{"m":"Ours-R","x":3,"y":0.94},{"m":"Ours-R","x":8,"y":0.947},{"m":"Ours-R","x":15,"y":0.95},{"m":"Ours-R","x":30,"y":0.95},{"m":"Ours-R","x":60,"y":0.948},{"m":"Ours-R","x":100,"y":0.943},{"m":"Ours-R","x":150,"y":0.937},{"m":"Ours-R","x":200,"y":0.928},{"m":"Ours-R","x":225,"y":0.921},{"m":"Ours-R","x":240,"y":0.912},{"m":"Ours-R","x":247,"y":0.9},{"m":"Ours-R","x":251,"y":0.875},{"m":"Ours-R","x":253,"y":0.82}
],
"f2":[
{"m":"RAS","x":0,"y":0.7},{"m":"RAS","x":3,"y":0.78},{"m":"RAS","x":8,"y":0.81},{"m":"RAS","x":15,"y":0.821},{"m":"RAS","x":30,"y":0.827},{"m":"RAS","x":60,"y":0.829},{"m":"RAS","x":100,"y":0.827},{"m":"RAS","x":150,"y":0.82},{"m":"RAS","x":200,"y":0.806},{"m":"RAS","x":225,"y":0.795},{"m":"RAS","x":240,"y":0.78},{"m":"RAS","x":247,"y":0.76},{"m":"RAS","x":251,"y":0.735},{"m":"RAS","x":253,"y":0.7},
{"m":"PiCANet","x":0,"y":0.69},{"m":"PiCANet","x":3,"y":0.74},{"m":"PiCANet","x":8,"y":0.8},{"m":"PiCANet","x":15,"y":0.825},{"m":"PiCANet","x":30,"y":0.847},{"m":"PiCANet","x":60,"y":0.857},{"m":"PiCANet","x":100,"y":0.853},{"m":"PiCANet","x":150,"y":0.838},{"m":"PiCANet","x":200,"y":0.807},{"m":"PiCANet","x":225,"y":0.778},{"m":"PiCANet","x":240,"y":0.748},{"m":"PiCANet","x":247,"y":0.72},{"m":"PiCANet","x":251,"y":0.69},{"m":"PiCANet","x":253,"y":0.67},
{"m":"AFNet","x":0,"y":0.78},{"m":"AFNet","x":3,"y":0.845},{"m":"AFNet","x":8,"y":0.855},{"m":"AFNet","x":15,"y":0.86},{"m":"AFNet","x":30,"y":0.862},{"m":"AFNet","x":60,"y":0.861},{"m":"AFNet","x":100,"y":0.855},{"m":"AFNet","x":150,"y":0.846},{"m":"AFNet","x":200,"y":0.834},{"m":"AFNet","x":225,"y":0.82},{"m":"AFNet","x":240,"y":0.8},{"m":"AFNet","x":247,"y":0.785},{"m":"AFNet","x":251,"y":0.76},{"m":"AFNet","x":253,"y":0.73},
{"m":"BASNet","x":0,"y":0.7},{"m":"BASNet","x":3,"y":0.85},{"m":"BASNet","x":8,"y":0.853},{"m":"BASNet","x":15,"y":0.853},{"m":"BASNet","x":30,"y":0.851},{"m":"BASNet","x":60,"y":0.848},{"m":"BASNet","x":100,"y":0.843},{"m":"BASNet","x":150,"y":0.837},{"m":"BASNet","x":200,"y":0.83},{"m":"BASNet","x":225,"y":0.826},{"m":"BASNet","x":240,"y":0.822},{"m":"BASNet","x":247,"y":0.815},{"m":"BASNet","x":251,"y":0.8},{"m":"BASNet","x":253,"y":0.77},
{"m":"CPD-R","x":0,"y":0.78},{"m":"CPD-R","x":3,"y":0.845},{"m":"CPD-R","x":8,"y":0.855},{"m":"CPD-R","x":15,"y":0.858},{"m":"CPD-R","x":30,"y":0.859},{"m":"CPD-R","x":60,"y":0.857},{"m":"CPD-R","x":100,"y":0.853},{"m":"CPD-R","x":150,"y":0.845},{"m":"CPD-R","x":200,"y":0.834},{"m":"CPD-R","x":225,"y":0.822},{"m":"CPD-R","x":240,"y":0.8},{"m":"CPD-R","x":247,"y":0.78},{"m":"CPD-R","x":251,"y":0.75},{"m":"CPD-R","x":253,"y":0.72},
{"m":"F3Net","x":0,"y":0.85},{"m":"F3Net","x":3,"y":0.868},{"m":"F3Net","x":8,"y":0.872},{"m":"F3Net","x":15,"y":0.871},{"m":"F3Net","x":30,"y":0.868},{"m":"F3Net","x":60,"y":0.864},{"m":"F3Net","x":100,"y":0.86},{"m":"F3Net","x":150,"y":0.855},{"m":"F3Net","x":200,"y":0.848},{"m":"F3Net","x":225,"y":0.845},{"m":"F3Net","x":240,"y":0.84},{"m":"F3Net","x":247,"y":0.83},{"m":"F3Net","x":251,"y":0.81},{"m":"F3Net","x":253,"y":0.78},
{"m":"SCRN","x":0,"y":0.78},{"m":"SCRN","x":3,"y":0.84},{"m":"SCRN","x":8,"y":0.852},{"m":"SCRN","x":15,"y":0.861},{"m":"SCRN","x":30,"y":0.871},{"m":"SCRN","x":50,"y":0.877},{"m":"SCRN","x":75,"y":0.875},{"m":"SCRN","x":100,"y":0.871},{"m":"SCRN","x":150,"y":0.861},{"m":"SCRN","x":200,"y":0.85},{"m":"SCRN","x":225,"y":0.829},{"m":"SCRN","x":240,"y":0.808},{"m":"SCRN","x":247,"y":0.79},{"m":"SCRN","x":251,"y":0.77},{"m":"SCRN","x":253,"y":0.74},
{"m":"EGNet-R","x":0,"y":0.8},{"m":"EGNet-R","x":3,"y":0.85},{"m":"EGNet-R","x":8,"y":0.86},{"m":"EGNet-R","x":15,"y":0.864},{"m":"EGNet-R","x":30,"y":0.865},{"m":"EGNet-R","x":60,"y":0.864},{"m":"EGNet-R","x":100,"y":0.858},{"m":"EGNet-R","x":150,"y":0.85},{"m":"EGNet-R","x":200,"y":0.838},{"m":"EGNet-R","x":225,"y":0.825},{"m":"EGNet-R","x":240,"y":0.81},{"m":"EGNet-R","x":247,"y":0.795},{"m":"EGNet-R","x":251,"y":0.77},{"m":"EGNet-R","x":253,"y":0.74},
{"m":"MINet-R","x":0,"y":0.82},{"m":"MINet-R","x":3,"y":0.855},{"m":"MINet-R","x":8,"y":0.863},{"m":"MINet-R","x":15,"y":0.866},{"m":"MINet-R","x":30,"y":0.867},{"m":"MINet-R","x":60,"y":0.864},{"m":"MINet-R","x":100,"y":0.858},{"m":"MINet-R","x":150,"y":0.85},{"m":"MINet-R","x":200,"y":0.839},{"m":"MINet-R","x":225,"y":0.83},{"m":"MINet-R","x":240,"y":0.82},{"m":"MINet-R","x":247,"y":0.805},{"m":"MINet-R","x":251,"y":0.78},{"m":"MINet-R","x":253,"y":0.75},
{"m":"ITSD-R","x":0,"y":0.82},{"m":"ITSD-R","x":3,"y":0.86},{"m":"ITSD-R","x":8,"y":0.866},{"m":"ITSD-R","x":15,"y":0.869},{"m":"ITSD-R","x":30,"y":0.869},{"m":"ITSD-R","x":60,"y":0.865},{"m":"ITSD-R","x":100,"y":0.86},{"m":"ITSD-R","x":150,"y":0.852},{"m":"ITSD-R","x":200,"y":0.84},{"m":"ITSD-R","x":225,"y":0.83},{"m":"ITSD-R","x":240,"y":0.822},{"m":"ITSD-R","x":247,"y":0.81},{"m":"ITSD-R","x":251,"y":0.79},{"m":"ITSD-R","x":253,"y":0.76},
{"m":"GateNet-R","x":0,"y":0.8},{"m":"GateNet-R","x":3,"y":0.85},{"m":"GateNet-R","x":8,"y":0.86},{"m":"GateNet-R","x":15,"y":0.865},{"m":"GateNet-R","x":30,"y":0.868},{"m":"GateNet-R","x":60,"y":0.869},{"m":"GateNet-R","x":100,"y":0.865},{"m":"GateNet-R","x":150,"y":0.857},{"m":"GateNet-R","x":200,"y":0.844},{"m":"GateNet-R","x":225,"y":0.83},{"m":"GateNet-R","x":240,"y":0.815},{"m":"GateNet-R","x":247,"y":0.8},{"m":"GateNet-R","x":251,"y":0.78},{"m":"GateNet-R","x":253,"y":0.75},
{"m":"Ours-R","x":0,"y":0.8},{"m":"Ours-R","x":3,"y":0.873},{"m":"Ours-R","x":8,"y":0.876},{"m":"Ours-R","x":15,"y":0.873},{"m":"Ours-R","x":30,"y":0.869},{"m":"Ours-R","x":60,"y":0.863},{"m":"Ours-R","x":100,"y":0.859},{"m":"Ours-R","x":150,"y":0.853},{"m":"Ours-R","x":200,"y":0.843},{"m":"Ours-R","x":225,"y":0.836},{"m":"Ours-R","x":240,"y":0.83},{"m":"Ours-R","x":247,"y":0.82},{"m":"Ours-R","x":251,"y":0.8},{"m":"Ours-R","x":253,"y":0.76}
],
"f3":[
{"m":"RAS","x":0,"y":0.65},{"m":"RAS","x":3,"y":0.77},{"m":"RAS","x":8,"y":0.8},{"m":"RAS","x":15,"y":0.815},{"m":"RAS","x":30,"y":0.826},{"m":"RAS","x":60,"y":0.831},{"m":"RAS","x":100,"y":0.826},{"m":"RAS","x":150,"y":0.815},{"m":"RAS","x":200,"y":0.797},{"m":"RAS","x":225,"y":0.776},{"m":"RAS","x":240,"y":0.75},{"m":"RAS","x":247,"y":0.72},{"m":"RAS","x":251,"y":0.68},{"m":"RAS","x":253,"y":0.63},
{"m":"PiCANet","x":0,"y":0.6},{"m":"PiCANet","x":3,"y":0.73},{"m":"PiCANet","x":8,"y":0.79},{"m":"PiCANet","x":15,"y":0.82},{"m":"PiCANet","x":30,"y":0.845},{"m":"PiCANet","x":60,"y":0.859},{"m":"PiCANet","x":100,"y":0.855},{"m":"PiCANet","x":150,"y":0.838},{"m":"PiCANet","x":200,"y":0.8},{"m":"PiCANet","x":225,"y":0.768},{"m":"PiCANet","x":240,"y":0.73},{"m":"PiCANet","x":247,"y":0.69},{"m":"PiCANet","x":251,"y":0.64},{"m":"PiCANet","x":253,"y":0.6},
{"m":"AFNet","x":0,"y":0.78},{"m":"AFNet","x":3,"y":0.83},{"m":"AFNet","x":8,"y":0.847},{"m":"AFNet","x":15,"y":0.854},{"m":"AFNet","x":30,"y":0.86},{"m":"AFNet","x":60,"y":0.862},{"m":"AFNet","x":100,"y":0.857},{"m":"AFNet","x":150,"y":0.846},{"m":"AFNet","x":200,"y":0.828},{"m":"AFNet","x":225,"y":0.812},{"m":"AFNet","x":240,"y":0.79},{"m":"AFNet","x":247,"y":0.76},{"m":"AFNet","x":251,"y":0.72},{"m":"AFNet","x":253,"y":0.67},
{"m":"BASNet","x":0,"y":0.6},{"m":"BASNet","x":3,"y":0.855},{"m":"BASNet","x":8,"y":0.858},{"m":"BASNet","x":15,"y":0.859},{"m":"BASNet","x":30,"y":0.86},{"m":"BASNet","x":60,"y":0.86},{"m":"BASNet","x":100,"y":0.857},{"m":"BASNet","x":150,"y":0.85},{"m":"BASNet","x":200,"y":0.84},{"m":"BASNet","x":225,"y":0.832},{"m":"BASNet","x":240,"y":0.82},{"m":"BASNet","x":247,"y":0.8},{"m":"BASNet","x":251,"y":0.76},{"m":"BASNet","x":253,"y":0.7},
{"m":"CPD-R","x":0,"y":0.8},{"m":"CPD-R","x":3,"y":0.84},{"m":"CPD-R","x":8,"y":0.853},{"m":"CPD-R","x":15,"y":0.859},{"m":"CPD-R","x":30,"y":0.863},{"m":"CPD-R","x":60,"y":0.865},{"m":"CPD-R","x":100,"y":0.862},{"m":"CPD-R","x":150,"y":0.853},{"m":"CPD-R","x":200,"y":0.838},{"m":"CPD-R","x":225,"y":0.825},{"m":"CPD-R","x":240,"y":0.8},{"m":"CPD-R","x":247,"y":0.77},{"m":"CPD-R","x":251,"y":0.73},{"m":"CPD-R","x":253,"y":0.68},
{"m":"F3Net","x":0,"y":0.86},{"m":"F3Net","x":3,"y":0.885},{"m":"F3Net","x":8,"y":0.889},{"m":"F3Net","x":15,"y":0.89},{"m":"F3Net","x":30,"y":0.889},{"m":"F3Net","x":60,"y":0.886},{"m":"F3Net","x":100,"y":0.879},{"m":"F3Net","x":150,"y":0.869},{"m":"F3Net","x":200,"y":0.858},{"m":"F3Net","x":225,"y":0.85},{"m":"F3Net","x":240,"y":0.84},{"m":"F3Net","x":247,"y":0.825},{"m":"F3Net","x":251,"y":0.79},{"m":"F3Net","x":253,"y":0.73},
{"m":"SCRN","x":0,"y":0.8},{"m":"SCRN","x":3,"y":0.85},{"m":"SCRN","x":8,"y":0.866},{"m":"SCRN","x":15,"y":0.876},{"m":"SCRN","x":30,"y":0.883},{"m":"SCRN","x":60,"y":0.887},{"m":"SCRN","x":100,"y":0.883},{"m":"SCRN","x":150,"y":0.871},{"m":"SCRN","x":200,"y":0.851},{"m":"SCRN","x":225,"y":0.832},{"m":"SCRN","x":240,"y":0.808},{"m":"SCRN","x":247,"y":0.78},{"m":"SCRN","x":251,"y":0.74},{"m":"SCRN","x":253,"y":0.7},
{"m":"EGNet-R","x":0,"y":0.8},{"m":"EGNet-R","x":3,"y":0.86},{"m":"EGNet-R","x":8,"y":0.873},{"m":"EGNet-R","x":15,"y":0.88},{"m":"EGNet-R","x":30,"y":0.885},{"m":"EGNet-R","x":60,"y":0.887},{"m":"EGNet-R","x":100,"y":0.883},{"m":"EGNet-R","x":150,"y":0.87},{"m":"EGNet-R","x":200,"y":0.852},{"m":"EGNet-R","x":225,"y":0.834},{"m":"EGNet-R","x":240,"y":0.812},{"m":"EGNet-R","x":247,"y":0.79},{"m":"EGNet-R","x":251,"y":0.75},{"m":"EGNet-R","x":253,"y":0.7},
{"m":"MINet-R","x":0,"y":0.83},{"m":"MINet-R","x":3,"y":0.875},{"m":"MINet-R","x":8,"y":0.882},{"m":"MINet-R","x":15,"y":0.884},{"m":"MINet-R","x":30,"y":0.884},{"m":"MINet-R","x":60,"y":0.881},{"m":"MINet-R","x":100,"y":0.874},{"m":"MINet-R","x":150,"y":0.864},{"m":"MINet-R","x":200,"y":0.852},{"m":"MINet-R","x":225,"y":0.84},{"m":"MINet-R","x":240,"y":0.825},{"m":"MINet-R","x":247,"y":0.805},{"m":"MINet-R","x":251,"y":0.77},{"m":"MINet-R","x":253,"y":0.72},
{"m":"ITSD-R","x":0,"y":0.84},{"m":"ITSD-R","x":3,"y":0.87},{"m":"ITSD-R","x":8,"y":0.879},{"m":"ITSD-R","x":15,"y":0.882},{"m":"ITSD-R","x":30,"y":0.882},{"m":"ITSD-R","x":60,"y":0.875},{"m":"ITSD-R","x":100,"y":0.869},{"m":"ITSD-R","x":150,"y":0.865},{"m":"ITSD-R","x":200,"y":0.852},{"m":"ITSD-R","x":225,"y":0.84},{"m":"ITSD-R","x":240,"y":0.825},{"m":"ITSD-R","x":247,"y":0.805},{"m":"ITSD-R","x":251,"y":0.77},{"m":"ITSD-R","x":253,"y":0.72},
{"m":"GateNet-R","x":0,"y":0.8},{"m":"GateNet-R","x":3,"y":0.86},{"m":"GateNet-R","x":8,"y":0.874},{"m":"GateNet-R","x":15,"y":0.881},{"m":"GateNet-R","x":30,"y":0.885},{"m":"GateNet-R","x":60,"y":0.887},{"m":"GateNet-R","x":100,"y":0.882},{"m":"GateNet-R","x":150,"y":0.869},{"m":"GateNet-R","x":200,"y":0.85},{"m":"GateNet-R","x":225,"y":0.83},{"m":"GateNet-R","x":240,"y":0.805},{"m":"GateNet-R","x":247,"y":0.78},{"m":"GateNet-R","x":251,"y":0.74},{"m":"GateNet-R","x":253,"y":0.7},
{"m":"Ours-R","x":0,"y":0.84},{"m":"Ours-R","x":3,"y":0.888},{"m":"Ours-R","x":8,"y":0.892},{"m":"Ours-R","x":15,"y":0.892},{"m":"Ours-R","x":30,"y":0.89},{"m":"Ours-R","x":60,"y":0.886},{"m":"Ours-R","x":100,"y":0.879},{"m":"Ours-R","x":150,"y":0.868},{"m":"Ours-R","x":200,"y":0.857},{"m":"Ours-R","x":225,"y":0.848},{"m":"Ours-R","x":240,"y":0.835},{"m":"Ours-R","x":247,"y":0.82},{"m":"Ours-R","x":251,"y":0.78},{"m":"Ours-R","x":253,"y":0.72}
],
"f4":[
{"m":"RAS","x":0,"y":0.75},{"m":"RAS","x":3,"y":0.85},{"m":"RAS","x":8,"y":0.88},{"m":"RAS","x":15,"y":0.895},{"m":"RAS","x":30,"y":0.905},{"m":"RAS","x":60,"y":0.911},{"m":"RAS","x":100,"y":0.911},{"m":"RAS","x":150,"y":0.902},{"m":"RAS","x":200,"y":0.882},{"m":"RAS","x":225,"y":0.865},{"m":"RAS","x":240,"y":0.845},{"m":"RAS","x":247,"y":0.82},{"m":"RAS","x":251,"y":0.79},{"m":"RAS","x":253,"y":0.74},
{"m":"PiCANet","x":0,"y":0.7},{"m":"PiCANet","x":3,"y":0.8},{"m":"PiCANet","x":8,"y":0.86},{"m":"PiCANet","x":15,"y":0.89},{"m":"PiCANet","x":30,"y":0.908},{"m":"PiCANet","x":60,"y":0.918},{"m":"PiCANet","x":100,"y":0.915},{"m":"PiCANet","x":150,"y":0.9},{"m":"PiCANet","x":200,"y":0.87},{"m":"PiCANet","x":225,"y":0.84},{"m":"PiCANet","x":240,"y":0.8},{"m":"PiCANet","x":247,"y":0.76},{"m":"PiCANet","x":251,"y":0.71},{"m":"PiCANet","x":253,"y":0.67},
{"m":"AFNet","x":0,"y":0.85},{"m":"AFNet","x":3,"y":0.9},{"m":"AFNet","x":8,"y":0.912},{"m":"AFNet","x":15,"y":0.917},{"m":"AFNet","x":30,"y":0.921},{"m":"AFNet","x":60,"y":0.922},{"m":"AFNet","x":100,"y":0.918},{"m":"AFNet","x":150,"y":0.908},{"m":"AFNet","x":200,"y":0.893},{"m":"AFNet","x":225,"y":0.879},{"m":"AFNet","x":240,"y":0.86},{"m":"AFNet","x":247,"y":0.838},{"m":"AFNet","x":251,"y":0.8},{"m":"AFNet","x":253,"y":0.76},
{"m":"BASNet","x":0,"y":0.7},{"m":"BASNet","x":3,"y":0.92},{"m":"BASNet","x":8,"y":0.926},{"m":"BASNet","x":15,"y":0.928},{"m":"BASNet","x":30,"y":0.928},{"m":"BASNet","x":60,"y":0.928},{"m":"BASNet","x":100,"y":0.923},{"m":"BASNet","x":150,"y":0.915},{"m":"BASNet","x":200,"y":0.906},{"m":"BASNet","x":225,"y":0.899},{"m":"BASNet","x":240,"y":0.893},{"m":"BASNet","x":247,"y":0.882},{"m":"BASNet","x":251,"y":0.86},{"m":"BASNet","x":253,"y":0.82},
{"m":"CPD-R","x":0,"y":0.85},{"m":"CPD-R","x":3,"y":0.905},{"m":"CPD-R","x":8,"y":0.916},{"m":"CPD-R","x":15,"y":0.921},{"m":"CPD-R","x":30,"y":0.924},{"m":"CPD-R","x":60,"y":0.925},{"m":"CPD-R","x":100,"y":0.921},{"m":"CPD-R","x":150,"y":0.911},{"m":"CPD-R","x":200,"y":0.897},{"m":"CPD-R","x":225,"y":0.885},{"m":"CPD-R","x":240,"y":0.868},{"m":"CPD-R","x":247,"y":0.845},{"m":"CPD-R","x":251,"y":0.81},{"m":"CPD-R","x":253,"y":0.77},
{"m":"F3Net","x":0,"y":0.91},{"m":"F3Net","x":3,"y":0.932},{"m":"F3Net","x":8,"y":0.936},{"m":"F3Net","x":15,"y":0.937},{"m":"F3Net","x":30,"y":0.937},{"m":"F3Net","x":60,"y":0.934},{"m":"F3Net","x":100,"y":0.929},{"m":"F3Net","x":150,"y":0.921},{"m":"F3Net","x":200,"y":0.912},{"m":"F3Net","x":225,"y":0.906},{"m":"F3Net","x":240,"y":0.9},{"m":"F3Net","x":247,"y":0.89},{"m":"F3Net","x":251,"y":0.87},{"m":"F3Net","x":253,"y":0.83},
{"m":"SCRN","x":0,"y":0.85},{"m":"SCRN","x":3,"y":0.905},{"m":"SCRN","x":8,"y":0.917},{"m":"SCRN","x":15,"y":0.925},{"m":"SCRN","x":30,"y":0.931},{"m":"SCRN","x":60,"y":0.934},{"m":"SCRN","x":100,"y":0.93},{"m":"SCRN","x":150,"y":0.92},{"m":"SCRN","x":200,"y":0.902},{"m":"SCRN","x":225,"y":0.885},{"m":"SCRN","x":240,"y":0.865},{"m":"SCRN","x":247,"y":0.84},{"m":"SCRN","x":251,"y":0.81},{"m":"SCRN","x":253,"y":0.77},
{"m":"EGNet-R","x":0,"y":0.86},{"m":"EGNet-R","x":3,"y":0.91},{"m":"EGNet-R","x":8,"y":0.922},{"m":"EGNet-R","x":15,"y":0.928},{"m":"EGNet-R","x":30,"y":0.932},{"m":"EGNet-R","x":60,"y":0.934},{"m":"EGNet-R","x":100,"y":0.929},{"m":"EGNet-R","x":150,"y":0.919},{"m":"EGNet-R","x":200,"y":0.902},{"m":"EGNet-R","x":225,"y":0.887},{"m":"EGNet-R","x":240,"y":0.868},{"m":"EGNet-R","x":247,"y":0.845},{"m":"EGNet-R","x":251,"y":0.815},{"m":"EGNet-R","x":253,"y":0.77},
{"m":"MINet-R","x":0,"y":0.88},{"m":"MINet-R","x":3,"y":0.925},{"m":"MINet-R","x":8,"y":0.931},{"m":"MINet-R","x":15,"y":0.933},{"m":"MINet-R","x":30,"y":0.934},{"m":"MINet-R","x":60,"y":0.931},{"m":"MINet-R","x":100,"y":0.926},{"m":"MINet-R","x":150,"y":0.917},{"m":"MINet-R","x":200,"y":0.905},{"m":"MINet-R","x":225,"y":0.895},{"m":"MINet-R","x":240,"y":0.88},{"m":"MINet-R","x":247,"y":0.862},{"m":"MINet-R","x":251,"y":0.83},{"m":"MINet-R","x":253,"y":0.79},
{"m":"ITSD-R","x":0,"y":0.87},{"m":"ITSD-R","x":3,"y":0.92},{"m":"ITSD-R","x":8,"y":0.927},{"m":"ITSD-R","x":15,"y":0.93},{"m":"ITSD-R","x":30,"y":0.931},{"m":"ITSD-R","x":60,"y":0.93},{"m":"ITSD-R","x":100,"y":0.925},{"m":"ITSD-R","x":150,"y":0.917},{"m":"ITSD-R","x":200,"y":0.908},{"m":"ITSD-R","x":225,"y":0.9},{"m":"ITSD-R","x":240,"y":0.892},{"m":"ITSD-R","x":247,"y":0.88},{"m":"ITSD-R","x":251,"y":0.855},{"m":"ITSD-R","x":253,"y":0.82},
{"m":"GateNet-R","x":0,"y":0.86},{"m":"GateNet-R","x":3,"y":0.91},{"m":"GateNet-R","x":8,"y":0.922},{"m":"GateNet-R","x":15,"y":0.928},{"m":"GateNet-R","x":30,"y":0.932},{"m":"GateNet-R","x":60,"y":0.933},{"m":"GateNet-R","x":100,"y":0.928},{"m":"GateNet-R","x":150,"y":0.918},{"m":"GateNet-R","x":200,"y":0.901},{"m":"GateNet-R","x":225,"y":0.885},{"m":"GateNet-R","x":240,"y":0.865},{"m":"GateNet-R","x":247,"y":0.84},{"m":"GateNet-R","x":251,"y":0.81},{"m":"GateNet-R","x":253,"y":0.77},
{"m":"Ours-R","x":0,"y":0.9},{"m":"Ours-R","x":3,"y":0.932},{"m":"Ours-R","x":8,"y":0.938},{"m":"Ours-R","x":15,"y":0.94},{"m":"Ours-R","x":30,"y":0.939},{"m":"Ours-R","x":60,"y":0.936},{"m":"Ours-R","x":100,"y":0.929},{"m":"Ours-R","x":150,"y":0.921},{"m":"Ours-R","x":200,"y":0.912},{"m":"Ours-R","x":225,"y":0.905},{"m":"Ours-R","x":240,"y":0.898},{"m":"Ours-R","x":247,"y":0.888},{"m":"Ours-R","x":251,"y":0.86},{"m":"Ours-R","x":253,"y":0.82}
],
"f5":[
{"m":"RAS","x":0,"y":0.65},{"m":"RAS","x":3,"y":0.74},{"m":"RAS","x":8,"y":0.765},{"m":"RAS","x":15,"y":0.777},{"m":"RAS","x":30,"y":0.784},{"m":"RAS","x":60,"y":0.787},{"m":"RAS","x":100,"y":0.783},{"m":"RAS","x":150,"y":0.773},{"m":"RAS","x":200,"y":0.755},{"m":"RAS","x":225,"y":0.74},{"m":"RAS","x":240,"y":0.72},{"m":"RAS","x":247,"y":0.69},{"m":"RAS","x":251,"y":0.66},{"m":"RAS","x":253,"y":0.62},
{"m":"PiCANet","x":0,"y":0.6},{"m":"PiCANet","x":3,"y":0.7},{"m":"PiCANet","x":8,"y":0.75},{"m":"PiCANet","x":15,"y":0.775},{"m":"PiCANet","x":30,"y":0.795},{"m":"PiCANet","x":60,"y":0.803},{"m":"PiCANet","x":100,"y":0.8},{"m":"PiCANet","x":150,"y":0.783},{"m":"PiCANet","x":200,"y":0.75},{"m":"PiCANet","x":225,"y":0.72},{"m":"PiCANet","x":240,"y":0.685},{"m":"PiCANet","x":247,"y":0.65},{"m":"PiCANet","x":251,"y":0.61},{"m":"PiCANet","x":253,"y":0.58},
{"m":"AFNet","x":0,"y":0.75},{"m":"AFNet","x":3,"y":0.78},{"m":"AFNet","x":8,"y":0.789},{"m":"AFNet","x":15,"y":0.793},{"m":"AFNet","x":30,"y":0.796},{"m":"AFNet","x":60,"y":0.797},{"m":"AFNet","x":100,"y":0.793},{"m":"AFNet","x":150,"y":0.784},{"m":"AFNet","x":200,"y":0.77},{"m":"AFNet","x":225,"y":0.758},{"m":"AFNet","x":240,"y":0.745},{"m":"AFNet","x":247,"y":0.725},{"m":"AFNet","x":251,"y":0.7},{"m":"AFNet","x":253,"y":0.67},
{"m":"BASNet","x":0,"y":0.6},{"m":"BASNet","x":3,"y":0.8},{"m":"BASNet","x":8,"y":0.804},{"m":"BASNet","x":15,"y":0.805},{"m":"BASNet","x":30,"y":0.805},{"m":"BASNet","x":60,"y":0.805},{"m":"BASNet","x":100,"y":0.801},{"m":"BASNet","x":150,"y":0.795},{"m":"BASNet","x":200,"y":0.787},{"m":"BASNet","x":225,"y":0.781},{"m":"BASNet","x":240,"y":0.775},{"m":"BASNet","x":247,"y":0.77},{"m":"BASNet","x":251,"y":0.76},{"m":"BASNet","x":253,"y":0.74},
{"m":"CPD-R","x":0,"y":0.75},{"m":"CPD-R","x":3,"y":0.78},{"m":"CPD-R","x":8,"y":0.788},{"m":"CPD-R","x":15,"y":0.792},{"m":"CPD-R","x":30,"y":0.795},{"m":"CPD-R","x":60,"y":0.797},{"m":"CPD-R","x":100,"y":0.794},{"m":"CPD-R","x":150,"y":0.786},{"m":"CPD-R","x":200,"y":0.774},{"m":"CPD-R","x":225,"y":0.764},{"m":"CPD-R","x":240,"y":0.75},{"m":"CPD-R","x":247,"y":0.73},{"m":"CPD-R","x":251,"y":0.71},{"m":"CPD-R","x":253,"y":0.68},
{"m":"F3Net","x":0,"y":0.8},{"m":"F3Net","x":3,"y":0.811},{"m":"F3Net","x":8,"y":0.813},{"m":"F3Net","x":15,"y":0.813},{"m":"F3Net","x":30,"y":0.811},{"m":"F3Net","x":60,"y":0.808},{"m":"F3Net","x":100,"y":0.804},{"m":"F3Net","x":150,"y":0.797},{"m":"F3Net","x":200,"y":0.788},{"m":"F3Net","x":225,"y":0.782},{"m":"F3Net","x":240,"y":0.776},{"m":"F3Net","x":247,"y":0.765},{"m":"F3Net","x":251,"y":0.74},{"m":"F3Net","x":253,"y":0.7},
{"m":"SCRN","x":0,"y":0.76},{"m":"SCRN","x":3,"y":0.79},{"m":"SCRN","x":8,"y":0.8},{"m":"SCRN","x":15,"y":0.806},{"m":"SCRN","x":30,"y":0.81},{"m":"SCRN","x":60,"y":0.813},{"m":"SCRN","x":100,"y":0.81},{"m":"SCRN","x":150,"y":0.8},{"m":"SCRN","x":200,"y":0.782},{"m":"SCRN","x":225,"y":0.765},{"m":"SCRN","x":240,"y":0.745},{"m":"SCRN","x":247,"y":0.72},{"m":"SCRN","x":251,"y":0.69},{"m":"SCRN","x":253,"y":0.66},
{"m":"EGNet-R","x":0,"y":0.76},{"m":"EGNet-R","x":3,"y":0.79},{"m":"EGNet-R","x":8,"y":0.803},{"m":"EGNet-R","x":15,"y":0.81},{"m":"EGNet-R","x":30,"y":0.815},{"m":"EGNet-R","x":60,"y":0.816},{"m":"EGNet-R","x":100,"y":0.811},{"m":"EGNet-R","x":150,"y":0.799},{"m":"EGNet-R","x":200,"y":0.78},{"m":"EGNet-R","x":225,"y":0.765},{"m":"EGNet-R","x":240,"y":0.745},{"m":"EGNet-R","x":247,"y":0.72},{"m":"EGNet-R","x":251,"y":0.69},{"m":"EGNet-R","x":253,"y":0.66},
{"m":"MINet-R","x":0,"y":0.78},{"m":"MINet-R","x":3,"y":0.8},{"m":"MINet-R","x":8,"y":0.806},{"m":"MINet-R","x":15,"y":0.809},{"m":"MINet-R","x":30,"y":0.81},{"m":"MINet-R","x":60,"y":0.808},{"m":"MINet-R","x":100,"y":0.802},{"m":"MINet-R","x":150,"y":0.794},{"m":"MINet-R","x":200,"y":0.782},{"m":"MINet-R","x":225,"y":0.772},{"m":"MINet-R","x":240,"y":0.76},{"m":"MINet-R","x":247,"y":0.745},{"m":"MINet-R","x":251,"y":0.72},{"m":"MINet-R","x":253,"y":0.69},
{"m":"ITSD-R","x":0,"y":0.78},{"m":"ITSD-R","x":3,"y":0.8},{"m":"ITSD-R","x":8,"y":0.812},{"m":"ITSD-R","x":15,"y":0.818},{"m":"ITSD-R","x":30,"y":0.821},{"m":"ITSD-R","x":60,"y":0.817},{"m":"ITSD-R","x":100,"y":0.81},{"m":"ITSD-R","x":150,"y":0.8},{"m":"ITSD-R","x":200,"y":0.79},{"m":"ITSD-R","x":225,"y":0.783},{"m":"ITSD-R","x":240,"y":0.777},{"m":"ITSD-R","x":247,"y":0.77},{"m":"ITSD-R","x":251,"y":0.76},{"m":"ITSD-R","x":253,"y":0.74},
{"m":"GateNet-R","x":0,"y":0.76},{"m":"GateNet-R","x":3,"y":0.79},{"m":"GateNet-R","x":8,"y":0.802},{"m":"GateNet-R","x":15,"y":0.809},{"m":"GateNet-R","x":30,"y":0.815},{"m":"GateNet-R","x":60,"y":0.818},{"m":"GateNet-R","x":100,"y":0.813},{"m":"GateNet-R","x":150,"y":0.801},{"m":"GateNet-R","x":200,"y":0.783},{"m":"GateNet-R","x":225,"y":0.767},{"m":"GateNet-R","x":240,"y":0.748},{"m":"GateNet-R","x":247,"y":0.72},{"m":"GateNet-R","x":251,"y":0.69},{"m":"GateNet-R","x":253,"y":0.66},
{"m":"Ours-R","x":0,"y":0.8},{"m":"Ours-R","x":3,"y":0.82},{"m":"Ours-R","x":8,"y":0.826},{"m":"Ours-R","x":15,"y":0.826},{"m":"Ours-R","x":30,"y":0.823},{"m":"Ours-R","x":60,"y":0.817},{"m":"Ours-R","x":100,"y":0.811},{"m":"Ours-R","x":150,"y":0.802},{"m":"Ours-R","x":200,"y":0.792},{"m":"Ours-R","x":225,"y":0.785},{"m":"Ours-R","x":240,"y":0.78},{"m":"Ours-R","x":247,"y":0.77},{"m":"Ours-R","x":251,"y":0.745},{"m":"Ours-R","x":253,"y":0.7}
]
},
"concat":[
{"width":212,"height":248,"data":{"name":"p1"},"layer":[
{"mark":{"type":"line","clip":true,"interpolate":"monotone"},"encoding":{
"x":{"field":"x","type":"quantitative","scale":{"domain":[0.006,1.004],"nice":false,"zero":false},"axis":{"title":"Recall","values":[0.2,0.4,0.6,0.8,1.0],"tickCount":20,"format":".1f"}},
"y":{"field":"y","type":"quantitative","scale":{"domain":[0.7165,1.0166],"nice":false,"zero":false},"axis":{"title":"Precision","values":[0.75,0.8,0.85,0.9,0.95,1.0],"tickCount":20,"format":".2f"}},
"color":{"field":"m","type":"nominal","scale":{"domain":["RAS","PiCANet","AFNet","BASNet","CPD-R","F3Net","SCRN","EGNet-R","MINet-R","ITSD-R","GateNet-R","Ours-R"],"range":["#0000ff","#008000","#800080","#ffd700","#000000","#00ffff","#0000ff","#008000","#800080","#ffd700","#000000","#ff0000"]},"legend":{"title":null,"orient":"none","legendX":19,"legendY":150,"encode":{"symbols":{"update":{"strokeWidth":{"signal":"datum.value === 'Ours-R' ? 3 : 2"}}}}}},
"strokeDash":{"field":"m","type":"nominal","scale":{"domain":["RAS","PiCANet","AFNet","BASNet","CPD-R","F3Net","SCRN","EGNet-R","MINet-R","ITSD-R","GateNet-R","Ours-R"],"range":[[1,0],[1,0],[1,0],[1,0],[1,0],[1,0],[3.5,1.5],[3.5,1.5],[3.5,1.5],[3.5,1.5],[3.5,1.5],[1,0]]},"legend":{"title":null,"orient":"none","legendX":19,"legendY":150,"encode":{"symbols":{"update":{"strokeWidth":{"signal":"datum.value === 'Ours-R' ? 3 : 2"}}}}}},
"strokeWidth":{"field":"m","type":"nominal","scale":{"type":"ordinal","domain":["RAS","PiCANet","AFNet","BASNet","CPD-R","F3Net","SCRN","EGNet-R","MINet-R","ITSD-R","GateNet-R","Ours-R"],"range":[1.1,1.1,1.1,1.1,1.1,1.1,1.1,1.1,1.1,1.1,1.1,2]},"legend":null}}},
{"data":{"values":[{"t":"ECSSD"}]},"mark":{"type":"text","font":"Liberation Serif","fontWeight":"bold","fontSize":28},"encoding":{"x":{"datum":0.524},"y":{"datum":0.9137},"text":{"field":"t"}}}
]},
{"width":212,"height":248,"data":{"name":"p2"},"layer":[
{"mark":{"type":"line","clip":true,"interpolate":"monotone"},"encoding":{
"x":{"field":"x","type":"quantitative","scale":{"domain":[-0.034,0.95],"nice":false,"zero":false},"axis":{"title":"Recall","values":[0,0.2,0.4,0.6,0.8],"tickCount":20,"format":".1f"}},
"y":{"field":"y","type":"quantitative","scale":{"domain":[0.662,0.962],"nice":false,"zero":false},"axis":{"title":null,"values":[0.7,0.75,0.8,0.85,0.9,0.95],"tickCount":20,"format":".2f"}},
"color":{"field":"m","type":"nominal","scale":{"domain":["RAS","PiCANet","AFNet","BASNet","CPD-R","F3Net","SCRN","EGNet-R","MINet-R","ITSD-R","GateNet-R","Ours-R"],"range":["#0000ff","#008000","#800080","#ffd700","#000000","#00ffff","#0000ff","#008000","#800080","#ffd700","#000000","#ff0000"]},"legend":{"title":null,"orient":"none","legendX":19,"legendY":150,"encode":{"symbols":{"update":{"strokeWidth":{"signal":"datum.value === 'Ours-R' ? 3 : 2"}}}}}},
"strokeDash":{"field":"m","type":"nominal","scale":{"domain":["RAS","PiCANet","AFNet","BASNet","CPD-R","F3Net","SCRN","EGNet-R","MINet-R","ITSD-R","GateNet-R","Ours-R"],"range":[[1,0],[1,0],[1,0],[1,0],[1,0],[1,0],[3.5,1.5],[3.5,1.5],[3.5,1.5],[3.5,1.5],[3.5,1.5],[1,0]]},"legend":{"title":null,"orient":"none","legendX":19,"legendY":150,"encode":{"symbols":{"update":{"strokeWidth":{"signal":"datum.value === 'Ours-R' ? 3 : 2"}}}}}},
"strokeWidth":{"field":"m","type":"nominal","scale":{"type":"ordinal","domain":["RAS","PiCANet","AFNet","BASNet","CPD-R","F3Net","SCRN","EGNet-R","MINet-R","ITSD-R","GateNet-R","Ours-R"],"range":[1.1,1.1,1.1,1.1,1.1,1.1,1.1,1.1,1.1,1.1,1.1,2]},"legend":null}}},
{"data":{"values":[{"t":"PASCAL-S"}]},"mark":{"type":"text","font":"Liberation Serif","fontWeight":"bold","fontSize":28},"encoding":{"x":{"datum":0.503},"y":{"datum":0.859},"text":{"field":"t"}}}
]},
{"width":212,"height":248,"data":{"name":"p3"},"layer":[
{"mark":{"type":"line","clip":true,"interpolate":"monotone"},"encoding":{
"x":{"field":"x","type":"quantitative","scale":{"domain":[-0.027,0.979],"nice":false,"zero":false},"axis":{"title":"Recall","values":[0,0.2,0.4,0.6,0.8],"tickCount":20,"format":".1f"}},
"y":{"field":"y","type":"quantitative","scale":{"domain":[0.68,0.981],"nice":false,"zero":false},"axis":{"title":null,"values":[0.7,0.75,0.8,0.85,0.9,0.95],"tickCount":20,"format":".2f"}},
"color":{"field":"m","type":"nominal","scale":{"domain":["RAS","PiCANet","AFNet","BASNet","CPD-R","F3Net","SCRN","EGNet-R","MINet-R","ITSD-R","GateNet-R","Ours-R"],"range":["#0000ff","#008000","#800080","#ffd700","#000000","#00ffff","#0000ff","#008000","#800080","#ffd700","#000000","#ff0000"]},"legend":{"title":null,"orient":"none","legendX":19,"legendY":150,"encode":{"symbols":{"update":{"strokeWidth":{"signal":"datum.value === 'Ours-R' ? 3 : 2"}}}}}},
"strokeDash":{"field":"m","type":"nominal","scale":{"domain":["RAS","PiCANet","AFNet","BASNet","CPD-R","F3Net","SCRN","EGNet-R","MINet-R","ITSD-R","GateNet-R","Ours-R"],"range":[[1,0],[1,0],[1,0],[1,0],[1,0],[1,0],[3.5,1.5],[3.5,1.5],[3.5,1.5],[3.5,1.5],[3.5,1.5],[1,0]]},"legend":{"title":null,"orient":"none","legendX":19,"legendY":150,"encode":{"symbols":{"update":{"strokeWidth":{"signal":"datum.value === 'Ours-R' ? 3 : 2"}}}}}},
"strokeWidth":{"field":"m","type":"nominal","scale":{"type":"ordinal","domain":["RAS","PiCANet","AFNet","BASNet","CPD-R","F3Net","SCRN","EGNet-R","MINet-R","ITSD-R","GateNet-R","Ours-R"],"range":[1.1,1.1,1.1,1.1,1.1,1.1,1.1,1.1,1.1,1.1,1.1,2]},"legend":null}}},
{"data":{"values":[{"t":"DUTS"}]},"mark":{"type":"text","font":"Liberation Serif","fontWeight":"bold","fontSize":28},"encoding":{"x":{"datum":0.485},"y":{"datum":0.8768},"text":{"field":"t"}}}
]},
{"width":212,"height":248,"data":{"name":"p4"},"layer":[
{"mark":{"type":"line","clip":true,"interpolate":"monotone"},"encoding":{
"x":{"field":"x","type":"quantitative","scale":{"domain":[-0.013,0.985],"nice":false,"zero":false},"axis":{"title":"Recall","values":[0,0.2,0.4,0.6,0.8],"tickCount":20,"format":".1f"}},
"y":{"field":"y","type":"quantitative","scale":{"domain":[0.707,1.008],"nice":false,"zero":false},"axis":{"title":null,"values":[0.75,0.8,0.85,0.9,0.95,1.0],"tickCount":20,"format":".2f"}},
"color":{"field":"m","type":"nominal","scale":{"domain":["RAS","PiCANet","AFNet","BASNet","CPD-R","F3Net","SCRN","EGNet-R","MINet-R","ITSD-R","GateNet-R","Ours-R"],"range":["#0000ff","#008000","#800080","#ffd700","#000000","#00ffff","#0000ff","#008000","#800080","#ffd700","#000000","#ff0000"]},"legend":{"title":null,"orient":"none","legendX":19,"legendY":150,"encode":{"symbols":{"update":{"strokeWidth":{"signal":"datum.value === 'Ours-R' ? 3 : 2"}}}}}},
"strokeDash":{"field":"m","type":"nominal","scale":{"domain":["RAS","PiCANet","AFNet","BASNet","CPD-R","F3Net","SCRN","EGNet-R","MINet-R","ITSD-R","GateNet-R","Ours-R"],"range":[[1,0],[1,0],[1,0],[1,0],[1,0],[1,0],[3.5,1.5],[3.5,1.5],[3.5,1.5],[3.5,1.5],[3.5,1.5],[1,0]]},"legend":{"title":null,"orient":"none","legendX":19,"legendY":150,"encode":{"symbols":{"update":{"strokeWidth":{"signal":"datum.value === 'Ours-R' ? 3 : 2"}}}}}},
"strokeWidth":{"field":"m","type":"nominal","scale":{"type":"ordinal","domain":["RAS","PiCANet","AFNet","BASNet","CPD-R","F3Net","SCRN","EGNet-R","MINet-R","ITSD-R","GateNet-R","Ours-R"],"range":[1.1,1.1,1.1,1.1,1.1,1.1,1.1,1.1,1.1,1.1,1.1,2]},"legend":null}}},
{"data":{"values":[{"t":"HKU-IS"}]},"mark":{"type":"text","font":"Liberation Serif","fontWeight":"bold","fontSize":28},"encoding":{"x":{"datum":0.506},"y":{"datum":0.903},"text":{"field":"t"}}}
]},
{"width":212,"height":248,"data":{"name":"p5"},"layer":[
{"mark":{"type":"line","clip":true,"interpolate":"monotone"},"encoding":{
"x":{"field":"x","type":"quantitative","scale":{"domain":[-0.049,0.957],"nice":false,"zero":false},"axis":{"title":"Recall","values":[0,0.2,0.4,0.6,0.8],"tickCount":20,"format":".1f"}},
"y":{"field":"y","type":"quantitative","scale":{"domain":[0.602,0.9024],"nice":false,"zero":false},"axis":{"title":null,"values":[0.65,0.7,0.75,0.8,0.85,0.9],"tickCount":20,"format":".2f"}},
"color":{"field":"m","type":"nominal","scale":{"domain":["RAS","PiCANet","AFNet","BASNet","CPD-R","F3Net","SCRN","EGNet-R","MINet-R","ITSD-R","GateNet-R","Ours-R"],"range":["#0000ff","#008000","#800080","#ffd700","#000000","#00ffff","#0000ff","#008000","#800080","#ffd700","#000000","#ff0000"]},"legend":{"title":null,"orient":"none","legendX":19,"legendY":150,"encode":{"symbols":{"update":{"strokeWidth":{"signal":"datum.value === 'Ours-R' ? 3 : 2"}}}}}},
"strokeDash":{"field":"m","type":"nominal","scale":{"domain":["RAS","PiCANet","AFNet","BASNet","CPD-R","F3Net","SCRN","EGNet-R","MINet-R","ITSD-R","GateNet-R","Ours-R"],"range":[[1,0],[1,0],[1,0],[1,0],[1,0],[1,0],[3.5,1.5],[3.5,1.5],[3.5,1.5],[3.5,1.5],[3.5,1.5],[1,0]]},"legend":{"title":null,"orient":"none","legendX":19,"legendY":150,"encode":{"symbols":{"update":{"strokeWidth":{"signal":"datum.value === 'Ours-R' ? 3 : 2"}}}}}},
"strokeWidth":{"field":"m","type":"nominal","scale":{"type":"ordinal","domain":["RAS","PiCANet","AFNet","BASNet","CPD-R","F3Net","SCRN","EGNet-R","MINet-R","ITSD-R","GateNet-R","Ours-R"],"range":[1.1,1.1,1.1,1.1,1.1,1.1,1.1,1.1,1.1,1.1,1.1,2]},"legend":null}}},
{"data":{"values":[{"t":"OMRON"}]},"mark":{"type":"text","font":"Liberation Serif","fontWeight":"bold","fontSize":28},"encoding":{"x":{"datum":0.475},"y":{"datum":0.7982},"text":{"field":"t"}}}
]},
{"width":212,"height":248,"data":{"name":"f1"},"layer":[
{"mark":{"type":"line","clip":true,"interpolate":"monotone"},"encoding":{
"x":{"field":"x","type":"quantitative","scale":{"domain":[0,253],"nice":false,"zero":false},"axis":{"title":"Threshold","titlePadding":10,"values":[0,50,100,150,200,250],"tickCount":20,"format":"d"}},
"y":{"field":"y","type":"quantitative","scale":{"domain":[0.7466,0.9553],"nice":false,"zero":false},"axis":{"title":"F-measure","values":[0.75,0.775,0.8,0.825,0.85,0.875,0.9,0.925,0.95],"tickCount":20,"format":".3f"}},
"color":{"field":"m","type":"nominal","scale":{"domain":["RAS","PiCANet","AFNet","BASNet","CPD-R","F3Net","SCRN","EGNet-R","MINet-R","ITSD-R","GateNet-R","Ours-R"],"range":["#0000ff","#008000","#800080","#ffd700","#000000","#00ffff","#0000ff","#008000","#800080","#ffd700","#000000","#ff0000"]},"legend":{"title":null,"orient":"none","legendX":19,"legendY":150,"encode":{"symbols":{"update":{"strokeWidth":{"signal":"datum.value === 'Ours-R' ? 3 : 2"}}}}}},
"strokeDash":{"field":"m","type":"nominal","scale":{"domain":["RAS","PiCANet","AFNet","BASNet","CPD-R","F3Net","SCRN","EGNet-R","MINet-R","ITSD-R","GateNet-R","Ours-R"],"range":[[1,0],[1,0],[1,0],[1,0],[1,0],[1,0],[3.5,1.5],[3.5,1.5],[3.5,1.5],[3.5,1.5],[3.5,1.5],[1,0]]},"legend":{"title":null,"orient":"none","legendX":19,"legendY":150,"encode":{"symbols":{"update":{"strokeWidth":{"signal":"datum.value === 'Ours-R' ? 3 : 2"}}}}}},
"strokeWidth":{"field":"m","type":"nominal","scale":{"type":"ordinal","domain":["RAS","PiCANet","AFNet","BASNet","CPD-R","F3Net","SCRN","EGNet-R","MINet-R","ITSD-R","GateNet-R","Ours-R"],"range":[1.1,1.1,1.1,1.1,1.1,1.1,1.1,1.1,1.1,1.1,1.1,2]},"legend":null}}},
{"data":{"values":[{"t":"ECSSD"}]},"mark":{"type":"text","font":"Liberation Serif","fontWeight":"bold","fontSize":28},"encoding":{"x":{"datum":131},"y":{"datum":0.876},"text":{"field":"t"}}}
]},
{"width":212,"height":248,"data":{"name":"f2"},"layer":[
{"mark":{"type":"line","clip":true,"interpolate":"monotone"},"encoding":{
"x":{"field":"x","type":"quantitative","scale":{"domain":[0,253],"nice":false,"zero":false},"axis":{"title":"Threshold","titlePadding":10,"values":[0,50,100,150,200,250],"tickCount":20,"format":"d"}},
"y":{"field":"y","type":"quantitative","scale":{"domain":[0.6923,0.8819],"nice":false,"zero":false},"axis":{"title":null,"values":[0.7,0.725,0.75,0.775,0.8,0.825,0.85,0.875],"tickCount":20,"format":".3f"}},
"color":{"field":"m","type":"nominal","scale":{"domain":["RAS","PiCANet","AFNet","BASNet","CPD-R","F3Net","SCRN","EGNet-R","MINet-R","ITSD-R","GateNet-R","Ours-R"],"range":["#0000ff","#008000","#800080","#ffd700","#000000","#00ffff","#0000ff","#008000","#800080","#ffd700","#000000","#ff0000"]},"legend":{"title":null,"orient":"none","legendX":19,"legendY":150,"encode":{"symbols":{"update":{"strokeWidth":{"signal":"datum.value === 'Ours-R' ? 3 : 2"}}}}}},
"strokeDash":{"field":"m","type":"nominal","scale":{"domain":["RAS","PiCANet","AFNet","BASNet","CPD-R","F3Net","SCRN","EGNet-R","MINet-R","ITSD-R","GateNet-R","Ours-R"],"range":[[1,0],[1,0],[1,0],[1,0],[1,0],[1,0],[3.5,1.5],[3.5,1.5],[3.5,1.5],[3.5,1.5],[3.5,1.5],[1,0]]},"legend":{"title":null,"orient":"none","legendX":19,"legendY":150,"encode":{"symbols":{"update":{"strokeWidth":{"signal":"datum.value === 'Ours-R' ? 3 : 2"}}}}}},
"strokeWidth":{"field":"m","type":"nominal","scale":{"type":"ordinal","domain":["RAS","PiCANet","AFNet","BASNet","CPD-R","F3Net","SCRN","EGNet-R","MINet-R","ITSD-R","GateNet-R","Ours-R"],"range":[1.1,1.1,1.1,1.1,1.1,1.1,1.1,1.1,1.1,1.1,1.1,2]},"legend":null}}},
{"data":{"values":[{"t":"PASCAL-S"}]},"mark":{"type":"text","font":"Liberation Serif","fontWeight":"bold","fontSize":28},"encoding":{"x":{"datum":137},"y":{"datum":0.8105},"text":{"field":"t"}}}
]},
{"width":212,"height":248,"data":{"name":"f3"},"layer":[
{"mark":{"type":"line","clip":true,"interpolate":"monotone"},"encoding":{
"x":{"field":"x","type":"quantitative","scale":{"domain":[0,253],"nice":false,"zero":false},"axis":{"title":"Threshold","titlePadding":10,"values":[0,50,100,150,200,250],"tickCount":20,"format":"d"}},
"y":{"field":"y","type":"quantitative","scale":{"domain":[0.6,0.9],"nice":false,"zero":false},"axis":{"title":null,"values":[0.6,0.65,0.7,0.75,0.8,0.85,0.9],"tickCount":20,"format":".2f"}},
"color":{"field":"m","type":"nominal","scale":{"domain":["RAS","PiCANet","AFNet","BASNet","CPD-R","F3Net","SCRN","EGNet-R","MINet-R","ITSD-R","GateNet-R","Ours-R"],"range":["#0000ff","#008000","#800080","#ffd700","#000000","#00ffff","#0000ff","#008000","#800080","#ffd700","#000000","#ff0000"]},"legend":{"title":null,"orient":"none","legendX":19,"legendY":150,"encode":{"symbols":{"update":{"strokeWidth":{"signal":"datum.value === 'Ours-R' ? 3 : 2"}}}}}},
"strokeDash":{"field":"m","type":"nominal","scale":{"domain":["RAS","PiCANet","AFNet","BASNet","CPD-R","F3Net","SCRN","EGNet-R","MINet-R","ITSD-R","GateNet-R","Ours-R"],"range":[[1,0],[1,0],[1,0],[1,0],[1,0],[1,0],[3.5,1.5],[3.5,1.5],[3.5,1.5],[3.5,1.5],[3.5,1.5],[1,0]]},"legend":{"title":null,"orient":"none","legendX":19,"legendY":150,"encode":{"symbols":{"update":{"strokeWidth":{"signal":"datum.value === 'Ours-R' ? 3 : 2"}}}}}},
"strokeWidth":{"field":"m","type":"nominal","scale":{"type":"ordinal","domain":["RAS","PiCANet","AFNet","BASNet","CPD-R","F3Net","SCRN","EGNet-R","MINet-R","ITSD-R","GateNet-R","Ours-R"],"range":[1.1,1.1,1.1,1.1,1.1,1.1,1.1,1.1,1.1,1.1,1.1,2]},"legend":null}}},
{"data":{"values":[{"t":"DUTS"}]},"mark":{"type":"text","font":"Liberation Serif","fontWeight":"bold","fontSize":28},"encoding":{"x":{"datum":130.6},"y":{"datum":0.787},"text":{"field":"t"}}}
]},
{"width":212,"height":248,"data":{"name":"f4"},"layer":[
{"mark":{"type":"line","clip":true,"interpolate":"monotone"},"encoding":{
"x":{"field":"x","type":"quantitative","scale":{"domain":[0,253],"nice":false,"zero":false},"axis":{"title":"Threshold","titlePadding":10,"values":[0,50,100,150,200,250],"tickCount":20,"format":"d"}},
"y":{"field":"y","type":"quantitative","scale":{"domain":[0.6963,0.9458],"nice":false,"zero":false},"axis":{"title":null,"values":[0.7,0.75,0.8,0.85,0.9],"tickCount":20,"format":".2f"}},
"color":{"field":"m","type":"nominal","scale":{"domain":["RAS","PiCANet","AFNet","BASNet","CPD-R","F3Net","SCRN","EGNet-R","MINet-R","ITSD-R","GateNet-R","Ours-R"],"range":["#0000ff","#008000","#800080","#ffd700","#000000","#00ffff","#0000ff","#008000","#800080","#ffd700","#000000","#ff0000"]},"legend":{"title":null,"orient":"none","legendX":19,"legendY":150,"encode":{"symbols":{"update":{"strokeWidth":{"signal":"datum.value === 'Ours-R' ? 3 : 2"}}}}}},
"strokeDash":{"field":"m","type":"nominal","scale":{"domain":["RAS","PiCANet","AFNet","BASNet","CPD-R","F3Net","SCRN","EGNet-R","MINet-R","ITSD-R","GateNet-R","Ours-R"],"range":[[1,0],[1,0],[1,0],[1,0],[1,0],[1,0],[3.5,1.5],[3.5,1.5],[3.5,1.5],[3.5,1.5],[3.5,1.5],[1,0]]},"legend":{"title":null,"orient":"none","legendX":19,"legendY":150,"encode":{"symbols":{"update":{"strokeWidth":{"signal":"datum.value === 'Ours-R' ? 3 : 2"}}}}}},
"strokeWidth":{"field":"m","type":"nominal","scale":{"type":"ordinal","domain":["RAS","PiCANet","AFNet","BASNet","CPD-R","F3Net","SCRN","EGNet-R","MINet-R","ITSD-R","GateNet-R","Ours-R"],"range":[1.1,1.1,1.1,1.1,1.1,1.1,1.1,1.1,1.1,1.1,1.1,2]},"legend":null}}},
{"data":{"values":[{"t":"HKU-IS"}]},"mark":{"type":"text","font":"Liberation Serif","fontWeight":"bold","fontSize":28},"encoding":{"x":{"datum":131.4},"y":{"datum":0.852},"text":{"field":"t"}}}
]},
{"width":212,"height":248,"data":{"name":"f5"},"layer":[
{"mark":{"type":"line","clip":true,"interpolate":"monotone"},"encoding":{
"x":{"field":"x","type":"quantitative","scale":{"domain":[0,253],"nice":false,"zero":false},"axis":{"title":"Threshold","titlePadding":10,"values":[0,50,100,150,200,250],"tickCount":20,"format":"d"}},
"y":{"field":"y","type":"quantitative","scale":{"domain":[0.5913,0.831],"nice":false,"zero":false},"axis":{"title":null,"values":[0.6,0.65,0.7,0.75,0.8],"tickCount":20,"format":".2f"}},
"color":{"field":"m","type":"nominal","scale":{"domain":["RAS","PiCANet","AFNet","BASNet","CPD-R","F3Net","SCRN","EGNet-R","MINet-R","ITSD-R","GateNet-R","Ours-R"],"range":["#0000ff","#008000","#800080","#ffd700","#000000","#00ffff","#0000ff","#008000","#800080","#ffd700","#000000","#ff0000"]},"legend":{"title":null,"orient":"none","legendX":19,"legendY":150,"encode":{"symbols":{"update":{"strokeWidth":{"signal":"datum.value === 'Ours-R' ? 3 : 2"}}}}}},
"strokeDash":{"field":"m","type":"nominal","scale":{"domain":["RAS","PiCANet","AFNet","BASNet","CPD-R","F3Net","SCRN","EGNet-R","MINet-R","ITSD-R","GateNet-R","Ours-R"],"range":[[1,0],[1,0],[1,0],[1,0],[1,0],[1,0],[3.5,1.5],[3.5,1.5],[3.5,1.5],[3.5,1.5],[3.5,1.5],[1,0]]},"legend":{"title":null,"orient":"none","legendX":19,"legendY":150,"encode":{"symbols":{"update":{"strokeWidth":{"signal":"datum.value === 'Ours-R' ? 3 : 2"}}}}}},
"strokeWidth":{"field":"m","type":"nominal","scale":{"type":"ordinal","domain":["RAS","PiCANet","AFNet","BASNet","CPD-R","F3Net","SCRN","EGNet-R","MINet-R","ITSD-R","GateNet-R","Ours-R"],"range":[1.1,1.1,1.1,1.1,1.1,1.1,1.1,1.1,1.1,1.1,1.1,2]},"legend":null}}},
{"data":{"values":[{"t":"OMRON"}]},"mark":{"type":"text","font":"Liberation Serif","fontWeight":"bold","fontSize":28},"encoding":{"x":{"datum":131},"y":{"datum":0.7407},"text":{"field":"t"}}}
]}
],
"config":{
"font":"DejaVu Sans",
"view":{"stroke":"#000000","strokeWidth":1},
"axis":{"labelFont":"DejaVu Sans","labelFontSize":11,"labelColor":"#000000","titleFont":"DejaVu Sans","titleFontSize":15,"titleFontWeight":"normal","titleColor":"#000000","tickColor":"#000000","tickSize":3.5,"tickWidth":0.8,"domain":false,"gridColor":"#b0b0b0","gridDash":[3,2],"gridWidth":0.8,"labelPadding":2,"labelFlush":false,"labelOverlap":false,"labelBound":false},
"axisX":{"titlePadding":4},
"axisY":{"titlePadding":5},
"legend":{"columns":2,"symbolType":"stroke","symbolSize":400,"symbolStrokeWidth":2,"labelFont":"DejaVu Sans","labelFontSize":10,"labelColor":"#000000","fillColor":"rgba(255,255,255,0.8)","strokeColor":"#cccccc","cornerRadius":3,"padding":4,"rowPadding":2.5,"columnPadding":20,"labelOffset":8,"clipHeight":12}
}
}
